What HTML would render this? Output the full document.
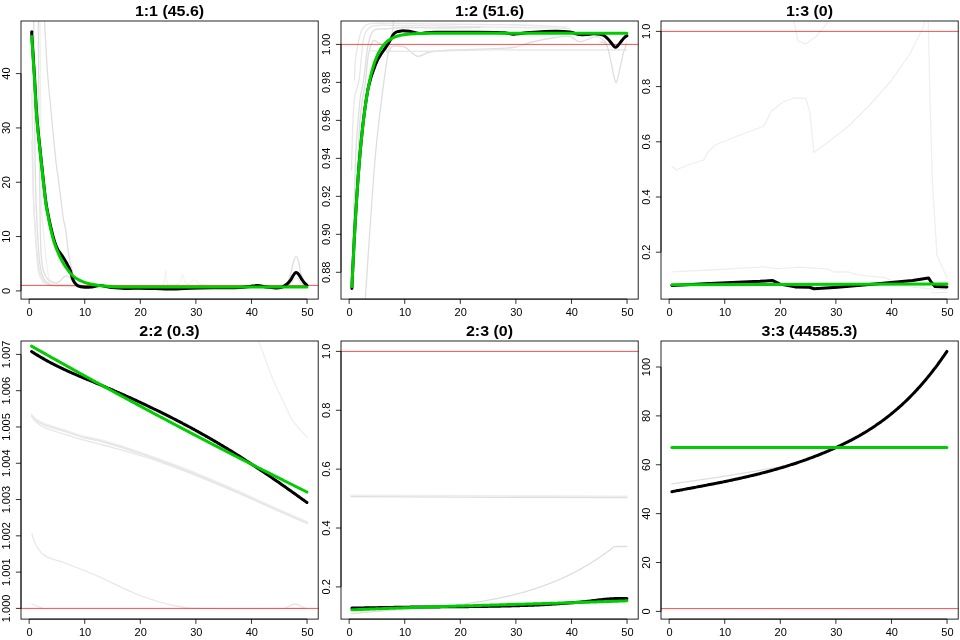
<!DOCTYPE html><html><head><meta charset="utf-8"><style>html,body{margin:0;padding:0;background:#fff;}svg{display:block;}text{font-family:"Liberation Sans",sans-serif;}svg{will-change:transform;}</style></head><body>
<svg width="960" height="640" viewBox="0 0 960 640">
<rect width="960" height="640" fill="#fff"/>
<g transform="translate(0,0)">
<clipPath id="c0"><rect x="21" y="21" width="297.2" height="278.1"/></clipPath>
<g clip-path="url(#c0)" fill="none" stroke-linejoin="round" stroke-linecap="round">
<path d="M33.70,15.00 C33.75,22.50 33.87,45.83 34.00,60.00 C34.13,74.17 34.33,85.00 34.50,100.00 C34.67,115.00 34.75,133.33 35.00,150.00 C35.25,166.67 35.50,185.00 36.00,200.00 C36.50,215.00 37.33,229.17 38.00,240.00 C38.67,250.83 39.00,258.50 40.00,265.00 C41.00,271.50 42.33,275.83 44.00,279.00 C45.67,282.17 47.33,282.83 50.00,284.00 C52.67,285.17 55.00,285.58 60.00,286.00 C65.00,286.42 70.00,286.42 80.00,286.50 C90.00,286.58 100.00,286.50 120.00,286.50 C140.00,286.50 168.67,286.50 200.00,286.50 C231.33,286.50 290.00,286.50 308.00,286.50" stroke="#dedede" stroke-width="1.3"/>
<path d="M31.90,91.90 C31.97,96.58 32.13,110.32 32.30,120.00 C32.47,129.68 32.68,136.67 32.90,150.00 C33.12,163.33 33.22,186.67 33.60,200.00 C33.98,213.33 34.42,218.23 35.20,230.00 C35.98,241.77 36.77,261.80 38.30,270.60 C39.83,279.40 42.12,280.32 44.40,282.80 C46.68,285.28 47.73,284.88 52.00,285.50 C56.27,286.12 67.00,286.33 70.00,286.50" stroke="#e7e7e7" stroke-width="1.3"/>
<path d="M31.90,141.00 C32.02,145.83 32.33,160.17 32.60,170.00 C32.87,179.83 32.80,186.67 33.50,200.00 C34.20,213.33 35.72,238.00 36.80,250.00 C37.88,262.00 38.47,266.50 40.00,272.00 C41.53,277.50 43.50,280.67 46.00,283.00 C48.50,285.33 53.50,285.50 55.00,286.00" stroke="#e7e7e7" stroke-width="1.3"/>
<path d="M39.90,15.00 C39.97,22.50 40.16,42.50 40.30,60.00 C40.44,77.50 40.55,96.67 40.75,120.00 C40.95,143.33 41.08,181.67 41.50,200.00 C41.92,218.33 42.15,217.38 43.30,230.00 C44.45,242.62 46.45,266.87 48.40,275.70 C50.35,284.53 52.23,281.37 55.00,283.00 C57.77,284.63 63.33,285.08 65.00,285.50" stroke="#efefef" stroke-width="1.3"/>
<path d="M38.30,15.00 C38.38,29.17 38.47,64.17 38.80,100.00 C39.13,135.83 39.72,202.40 40.30,230.00 C40.88,257.60 41.12,257.47 42.30,265.60 C43.48,273.73 45.20,275.93 47.40,278.80 C49.60,281.67 53.40,282.43 55.50,282.80 C57.60,283.17 58.47,282.10 60.00,281.00 C61.53,279.90 63.37,276.95 64.70,276.20 C66.03,275.45 66.78,275.87 68.00,276.50 C69.22,277.13 70.67,278.75 72.00,280.00 C73.33,281.25 74.00,283.00 76.00,284.00 C78.00,285.00 82.67,285.67 84.00,286.00" stroke="#dedede" stroke-width="1.3"/>
<path d="M44.20,15.00 C44.72,24.17 46.33,55.83 47.30,70.00 C48.27,84.17 48.59,85.00 50.00,100.00 C51.41,115.00 54.33,146.67 55.75,160.00 C57.17,173.33 57.26,170.42 58.50,180.00 C59.74,189.58 62.00,209.17 63.20,217.50 C64.40,225.83 64.77,223.75 65.70,230.00 C66.63,236.25 67.67,248.00 68.80,255.00 C69.93,262.00 71.30,267.50 72.50,272.00 C73.70,276.50 74.42,279.67 76.00,282.00 C77.58,284.33 78.83,285.25 82.00,286.00 C85.17,286.75 92.83,286.42 95.00,286.50" stroke="#dedede" stroke-width="1.3"/>
<path d="M270.00,286.50 C272.00,286.33 279.00,286.35 282.00,285.50 C285.00,284.65 286.53,283.43 288.00,281.40 C289.47,279.37 289.88,276.53 290.80,273.30 C291.72,270.07 292.62,264.78 293.50,262.00 C294.38,259.22 295.23,256.60 296.10,256.60 C296.97,256.60 297.88,259.10 298.70,262.00 C299.52,264.90 299.88,270.53 301.00,274.00 C302.12,277.47 304.23,280.80 305.40,282.80 C306.57,284.80 307.57,285.47 308.00,286.00" stroke="#dedede" stroke-width="1.3"/>
<path d="M280.00,286.50 C281.67,286.08 287.33,285.47 290.00,284.00 C292.67,282.53 294.00,277.70 296.00,277.70 C298.00,277.70 300.00,282.53 302.00,284.00 C304.00,285.47 307.00,286.08 308.00,286.50" stroke="#e7e7e7" stroke-width="1.3"/>
<path d="M150.00,286.00 C151.67,285.92 157.75,285.83 160.00,285.50 C162.25,285.17 162.53,286.53 163.50,284.00 C164.47,281.47 165.13,270.30 165.80,270.30 C166.47,270.30 165.80,281.55 167.50,284.00 C169.20,286.45 173.92,285.33 176.00,285.00 C178.08,284.67 178.92,283.75 180.00,282.00 C181.08,280.25 181.67,274.50 182.50,274.50 C183.33,274.50 184.08,280.42 185.00,282.00 C185.92,283.58 187.00,284.00 188.00,284.00 C189.00,284.00 190.00,282.72 191.00,282.00 C192.00,281.28 193.00,279.70 194.00,279.70 C195.00,279.70 196.00,281.28 197.00,282.00 C198.00,282.72 197.83,283.33 200.00,284.00 C202.17,284.67 208.33,285.67 210.00,286.00" stroke="#f3f3f3" stroke-width="1.3"/>
<path d="M21,285.4H318.2" stroke="#ff0000" stroke-width="0.7"/>
<path d="M31.90,31.70 C31.90,32.52 31.48,29.38 31.90,36.60 C32.32,43.82 33.55,61.32 34.40,75.00 C35.25,88.68 35.87,104.53 37.00,118.70 C38.13,132.87 39.77,146.45 41.20,160.00 C42.63,173.55 44.47,191.00 45.60,200.00 C46.73,209.00 47.10,209.32 48.00,214.00 C48.90,218.68 49.88,223.43 51.00,228.10 C52.12,232.77 53.60,238.48 54.70,242.00 C55.80,245.52 56.30,246.82 57.60,249.20 C58.90,251.58 60.98,253.95 62.50,256.30 C64.02,258.65 65.42,260.97 66.70,263.30 C67.98,265.63 69.27,267.85 70.20,270.30 C71.13,272.75 71.58,275.95 72.30,278.00 C73.02,280.05 73.55,281.30 74.50,282.60 C75.45,283.90 76.25,285.03 78.00,285.80 C79.75,286.57 82.83,287.00 85.00,287.20 C87.17,287.40 89.12,287.20 91.00,287.00 C92.88,286.80 94.63,286.23 96.30,286.00 C97.97,285.77 99.38,285.50 101.00,285.60 C102.62,285.70 104.17,286.27 106.00,286.60 C107.83,286.93 108.78,287.30 112.00,287.60 C115.22,287.90 120.63,288.30 125.30,288.40 C129.97,288.50 135.05,288.18 140.00,288.20 C144.95,288.22 150.17,288.37 155.00,288.50 C159.83,288.63 164.00,289.00 169.00,289.00 C174.00,289.00 179.83,288.67 185.00,288.50 C190.17,288.33 194.17,288.12 200.00,288.00 C205.83,287.88 213.33,287.88 220.00,287.80 C226.67,287.72 235.00,287.72 240.00,287.50 C245.00,287.28 247.12,286.82 250.00,286.50 C252.88,286.18 254.63,285.52 257.30,285.60 C259.97,285.68 262.97,286.62 266.00,287.00 C269.03,287.38 273.00,287.80 275.50,287.90 C278.00,288.00 279.58,287.87 281.00,287.60 C282.42,287.33 283.12,286.80 284.00,286.30 C284.88,285.80 285.55,285.22 286.30,284.60 C287.05,283.98 287.80,283.33 288.50,282.60 C289.20,281.87 289.83,281.17 290.50,280.20 C291.17,279.23 291.83,277.90 292.50,276.80 C293.17,275.70 293.92,274.33 294.50,273.60 C295.08,272.87 295.50,272.48 296.00,272.40 C296.50,272.32 296.92,272.57 297.50,273.10 C298.08,273.63 298.83,274.63 299.50,275.60 C300.17,276.57 300.75,277.77 301.50,278.90 C302.25,280.03 303.10,281.35 304.00,282.40 C304.90,283.45 306.42,284.73 306.90,285.20" stroke="#000" stroke-width="3"/>
<path d="M31.70,36.60 C32.12,43.00 33.35,61.32 34.20,75.00 C35.05,88.68 35.67,104.53 36.80,118.70 C37.93,132.87 39.57,146.45 41.00,160.00 C42.43,173.55 44.28,191.00 45.40,200.00 C46.52,209.00 46.85,209.32 47.70,214.00 C48.55,218.68 49.43,223.40 50.50,228.10 C51.57,232.80 52.57,237.50 54.10,242.20 C55.63,246.90 57.72,252.08 59.70,256.30 C61.68,260.52 63.78,264.22 66.00,267.50 C68.22,270.78 70.53,273.77 73.00,276.00 C75.47,278.23 78.10,279.62 80.80,280.90 C83.50,282.18 86.17,282.95 89.20,283.70 C92.23,284.45 95.53,284.95 99.00,285.40 C102.47,285.85 105.67,286.15 110.00,286.40 C114.33,286.65 119.17,286.78 125.00,286.90 C130.83,287.02 132.50,287.07 145.00,287.10 C157.50,287.13 173.02,287.10 200.00,287.10 C226.98,287.10 289.08,287.10 306.90,287.10" stroke="#00cd00" stroke-width="3"/>
</g>
<rect x="21" y="21" width="297.2" height="278.1" fill="none" stroke="#000" stroke-width="0.85"/>
<path d="M29.15,299.1H307.05M29.15,299.1v4.8M84.73,299.1v4.8M140.31,299.1v4.8M195.89,299.1v4.8M251.47,299.1v4.8M307.05,299.1v4.8" stroke="#000" stroke-width="0.8" fill="none"/>
<text x="29.55" y="315.7" font-size="11" text-anchor="middle">0</text>
<text x="85.13" y="315.7" font-size="11" text-anchor="middle">10</text>
<text x="140.71" y="315.7" font-size="11" text-anchor="middle">20</text>
<text x="196.29" y="315.7" font-size="11" text-anchor="middle">30</text>
<text x="251.87" y="315.7" font-size="11" text-anchor="middle">40</text>
<text x="307.45" y="315.7" font-size="11" text-anchor="middle">50</text>
<path d="M21,290.9V73.6M21,290.9h-5.1M21,236.57h-5.1M21,182.25h-5.1M21,127.93h-5.1M21,73.6h-5.1" stroke="#000" stroke-width="0.8" fill="none"/>
<text transform="translate(10.3,290.9) rotate(-90)" font-size="11" text-anchor="middle">0</text>
<text transform="translate(10.3,236.57) rotate(-90)" font-size="11" text-anchor="middle">10</text>
<text transform="translate(10.3,182.25) rotate(-90)" font-size="11" text-anchor="middle">20</text>
<text transform="translate(10.3,127.93) rotate(-90)" font-size="11" text-anchor="middle">30</text>
<text transform="translate(10.3,73.6) rotate(-90)" font-size="11" text-anchor="middle">40</text>
<text transform="translate(169.5,15.7) scale(1.08,1)" font-size="14.8" font-weight="bold" text-anchor="middle">1:1 (45.6)</text>
</g>
<g transform="translate(320,0)">
<clipPath id="c1"><rect x="21" y="21" width="297.2" height="278.1"/></clipPath>
<g clip-path="url(#c1)" fill="none" stroke-linejoin="round" stroke-linecap="round">
<path d="M34.40,80.00 C34.58,76.67 35.03,65.32 35.50,60.00 C35.97,54.68 36.30,52.73 37.20,48.10 C38.10,43.47 39.33,36.10 40.90,32.20 C42.47,28.30 43.78,26.18 46.60,24.70 C49.42,23.22 52.23,23.50 57.80,23.30 C63.37,23.10 69.63,23.38 80.00,23.50 C90.37,23.62 106.67,23.83 120.00,24.00 C133.33,24.17 146.67,24.33 160.00,24.50 C173.33,24.67 185.67,24.58 200.00,25.00 C214.33,25.42 238.33,26.67 246.00,27.00" stroke="#e7e7e7" stroke-width="1.3"/>
<path d="M31.50,170.00 C31.75,161.67 32.42,132.50 33.00,120.00 C33.58,107.50 33.98,101.67 35.00,95.00 C36.02,88.33 37.80,88.60 39.10,80.00 C40.40,71.40 41.72,51.37 42.80,43.40 C43.88,35.43 44.20,35.00 45.60,32.20 C47.00,29.40 48.38,27.77 51.20,26.60 C54.02,25.43 56.87,25.37 62.50,25.20 C68.13,25.03 75.42,25.47 85.00,25.60 C94.58,25.73 107.50,25.77 120.00,26.00 C132.50,26.23 146.67,26.75 160.00,27.00 C173.33,27.25 185.00,27.28 200.00,27.50 C215.00,27.72 241.67,28.17 250.00,28.30" stroke="#e7e7e7" stroke-width="1.3"/>
<path d="M33.00,240.00 C33.50,225.00 34.83,173.33 36.00,150.00 C37.17,126.67 38.72,111.67 40.00,100.00 C41.28,88.33 42.45,88.65 43.70,80.00 C44.95,71.35 46.25,55.75 47.50,48.10 C48.75,40.45 49.80,37.22 51.20,34.10 C52.60,30.98 53.23,30.27 55.90,29.40 C58.57,28.53 62.35,29.22 67.20,28.90 C72.05,28.58 76.20,27.65 85.00,27.50 C93.80,27.35 107.50,28.00 120.00,28.00 C132.50,28.00 153.33,27.58 160.00,27.50" stroke="#dedede" stroke-width="1.3"/>
<path d="M36.00,200.00 C36.67,186.67 38.40,140.00 40.00,120.00 C41.60,100.00 44.20,90.83 45.60,80.00 C47.00,69.17 47.15,61.48 48.40,55.00 C49.65,48.52 51.53,43.18 53.10,41.10 C54.67,39.02 55.92,41.65 57.80,42.50 C59.68,43.35 62.68,44.48 64.40,46.20 C66.12,47.92 67.02,52.48 68.10,52.80 C69.18,53.12 69.97,49.20 70.90,48.10 C71.83,47.00 71.35,46.35 73.70,46.20 C76.05,46.05 81.03,45.53 85.00,47.20 C88.97,48.88 93.33,55.45 97.50,56.25 C101.67,57.05 104.58,53.04 110.00,52.00 C115.42,50.96 121.67,50.47 130.00,50.00 C138.33,49.53 149.45,49.62 160.00,49.20 C170.55,48.78 184.97,48.62 193.30,47.50 C201.63,46.38 203.05,44.17 210.00,42.50 C216.95,40.83 228.33,38.47 235.00,37.50 C241.67,36.53 245.83,36.00 250.00,36.70 C254.17,37.40 255.55,41.70 260.00,41.70 C264.45,41.70 272.25,36.43 276.70,36.70 C281.15,36.97 285.03,42.20 286.70,43.30" stroke="#dedede" stroke-width="1.3"/>
<path d="M45.20,300.00 C46.83,276.67 51.91,196.25 55.00,160.00 C58.09,123.75 61.42,101.15 63.75,82.50 C66.08,63.85 67.49,56.95 69.00,48.10 C70.51,39.25 72.02,34.92 72.80,29.40 C73.58,23.88 73.55,17.40 73.70,15.00" stroke="#dedede" stroke-width="1.3"/>
<path d="M50.30,50.90 C56.08,50.98 73.38,51.38 85.00,51.40 C96.62,51.42 107.50,51.23 120.00,51.00 C132.50,50.77 146.67,50.17 160.00,50.00 C173.33,49.83 185.00,50.00 200.00,50.00 C215.00,50.00 232.18,50.00 250.00,50.00 C267.82,50.00 297.42,50.00 306.90,50.00" stroke="#e7e7e7" stroke-width="1.3"/>
<path d="M280.00,42.00 C281.12,42.50 284.87,41.67 286.70,45.00 C288.53,48.33 289.48,55.75 291.00,62.00 C292.52,68.25 294.30,81.50 295.80,82.50 C297.30,83.50 298.75,72.87 300.00,68.00 C301.25,63.13 302.18,57.42 303.30,53.30 C304.42,49.18 306.13,44.97 306.70,43.30" stroke="#dedede" stroke-width="1.3"/>
<path d="M21,44.4H318.2" stroke="#ff0000" stroke-width="0.7"/>
<path d="M31.90,288.50 C31.95,287.19 32.06,283.79 32.20,280.61 C32.34,277.43 32.56,273.11 32.74,269.40 C32.93,265.70 33.11,262.01 33.29,258.40 C33.47,254.79 33.65,251.23 33.83,247.74 C34.02,244.25 34.20,240.82 34.38,237.47 C34.56,234.11 34.74,230.82 34.92,227.60 C35.11,224.38 35.29,221.22 35.47,218.14 C35.65,215.05 35.83,212.04 36.01,209.08 C36.20,206.13 36.38,203.25 36.56,200.43 C36.74,197.61 36.92,194.85 37.10,192.16 C37.29,189.46 37.47,186.83 37.65,184.26 C37.83,181.69 38.01,179.19 38.19,176.73 C38.37,174.28 38.56,171.89 38.74,169.55 C38.92,167.22 39.10,164.94 39.28,162.71 C39.46,160.48 39.65,158.31 39.83,156.19 C40.01,154.07 40.19,152.01 40.37,149.99 C40.55,147.97 40.74,146.00 40.92,144.08 C41.10,142.15 41.28,140.28 41.46,138.45 C41.64,136.62 41.83,134.84 42.01,133.10 C42.19,131.36 42.37,129.67 42.55,128.01 C42.73,126.36 42.91,124.75 43.10,123.17 C43.28,121.60 43.46,120.07 43.64,118.57 C43.82,117.07 44.00,115.62 44.19,114.20 C44.37,112.77 44.55,111.39 44.73,110.04 C44.91,108.69 45.09,107.37 45.28,106.09 C45.46,104.80 45.64,103.55 45.82,102.33 C46.00,101.11 46.18,99.93 46.37,98.77 C46.55,97.61 46.73,96.48 46.91,95.38 C47.09,94.28 47.27,93.21 47.46,92.16 C47.64,91.12 47.49,91.30 48.00,89.11 C48.51,86.91 49.58,82.18 50.50,79.00 C51.42,75.82 52.42,73.00 53.50,70.00 C54.58,67.00 55.83,63.50 57.00,61.00 C58.17,58.50 59.35,56.83 60.50,55.00 C61.65,53.17 62.94,51.40 63.90,50.00 C64.86,48.60 65.48,47.77 66.25,46.60 C67.02,45.43 67.78,44.17 68.50,43.00 C69.22,41.83 69.83,40.97 70.60,39.60 C71.37,38.23 72.16,36.07 73.10,34.80 C74.04,33.53 74.89,32.65 76.25,32.00 C77.61,31.35 79.58,31.05 81.25,30.90 C82.92,30.75 84.38,30.92 86.25,31.10 C88.12,31.28 90.62,31.65 92.50,32.00 C94.38,32.35 96.08,32.93 97.50,33.20 C98.92,33.47 99.58,33.67 101.00,33.60 C102.42,33.53 103.67,33.02 106.00,32.80 C108.33,32.58 109.33,32.40 115.00,32.30 C120.67,32.20 129.72,32.18 140.00,32.20 C150.28,32.22 169.03,32.27 176.70,32.40 C184.37,32.53 183.23,32.70 186.00,33.00 C188.77,33.30 190.97,34.12 193.30,34.20 C195.63,34.28 197.22,33.78 200.00,33.50 C202.78,33.22 204.17,32.87 210.00,32.50 C215.83,32.13 228.33,31.38 235.00,31.30 C241.67,31.22 246.67,31.63 250.00,32.00 C253.33,32.37 253.33,33.08 255.00,33.50 C256.67,33.92 258.17,34.32 260.00,34.50 C261.83,34.68 263.78,34.72 266.00,34.60 C268.22,34.48 270.97,33.87 273.30,33.80 C275.63,33.73 278.22,33.92 280.00,34.20 C281.78,34.48 282.67,34.70 284.00,35.50 C285.33,36.30 286.72,37.67 288.00,39.00 C289.28,40.33 290.70,42.25 291.70,43.50 C292.70,44.75 293.32,45.87 294.00,46.50 C294.68,47.13 295.13,47.47 295.80,47.30 C296.47,47.13 297.02,46.58 298.00,45.50 C298.98,44.42 300.62,42.13 301.70,40.80 C302.78,39.47 303.63,38.33 304.50,37.50 C305.37,36.67 306.50,36.08 306.90,35.80" stroke="#000" stroke-width="3"/>
<path d="M31.90,286.60 L32.82,267.87 L33.74,249.57 L34.66,232.35 L35.58,216.28 L36.50,201.36 L37.42,187.55 L38.34,174.79 L39.26,163.02 L40.18,152.17 L41.10,142.19 L42.02,133.01 L42.94,124.57 L43.86,116.82 L44.78,109.70 L45.70,103.18 L46.62,97.19 L47.54,91.70 L48.46,86.67 L49.37,82.07 L50.29,77.85 L51.21,73.99 L52.13,70.45 L53.05,67.22 L53.97,64.26 L54.89,61.56 L55.81,59.08 L56.73,56.82 L57.65,54.76 L58.57,52.87 L59.49,51.14 L60.41,49.57 L61.33,48.13 L62.25,46.81 L63.17,45.61 L64.09,44.52 L65.01,43.52 L65.93,42.60 L66.85,41.77 L67.77,41.01 L68.69,40.32 L69.61,39.69 L70.53,39.11 L71.45,38.58 L72.37,38.10 L73.29,37.67 L74.21,37.27 L75.13,36.90 L76.05,36.57 L76.97,36.27 L77.89,36.00 L78.81,35.75 L79.73,35.52 L80.65,35.31 L81.57,35.12 L82.49,34.95 L83.41,34.79 L84.32,34.65 L85.24,34.52 L86.16,34.40 L87.08,34.29 L88.00,34.19 L88.92,34.10 L89.84,34.02 L90.76,33.95 L91.68,33.88 L92.60,33.82 L93.52,33.76 L94.44,33.71 L95.36,33.66 L96.28,33.62 L97.20,33.58 L98.12,33.55 L99.04,33.52 L99.96,33.49 L100.88,33.46 L101.80,33.44 L102.72,33.42 L103.64,33.40 L104.56,33.38 L105.48,33.36 L106.40,33.35 L107.32,33.33 L108.24,33.32 L109.16,33.31 L110.08,33.30 L111.00,33.29 L111.92,33.28 L112.84,33.28 L113.76,33.27 L114.68,33.26 L115.60,33.26 L116.52,33.25 L117.44,33.25 L118.35,33.24 L119.27,33.24 L120.19,33.24 L121.11,33.23 L122.03,33.23 L122.95,33.23 L123.87,33.22 L124.79,33.22 L125.71,33.22 L126.63,33.22 L127.55,33.22 L128.47,33.21 L129.39,33.21 L130.31,33.21 L131.23,33.21 L132.15,33.21 L133.07,33.21 L133.99,33.21 L134.91,33.21 L135.83,33.21 L136.75,33.21 L137.67,33.21 L138.59,33.21 L139.51,33.20 L140.43,33.20 L141.35,33.20 L142.27,33.20 L143.19,33.20 L144.11,33.20 L145.03,33.20 L145.95,33.20 L146.87,33.20 L147.79,33.20 L148.71,33.20 L149.63,33.20 L150.55,33.20 L151.47,33.20 L152.38,33.20 L153.30,33.20 L154.22,33.20 L155.14,33.20 L156.06,33.20 L156.98,33.20 L157.90,33.20 L158.82,33.20 L159.74,33.20 L160.66,33.20 L161.58,33.20 L162.50,33.20 L163.42,33.20 L164.34,33.20 L165.26,33.20 L166.18,33.20 L167.10,33.20 L168.02,33.20 L168.94,33.20 L169.86,33.20 L170.78,33.20 L171.70,33.20 L172.62,33.20 L173.54,33.20 L174.46,33.20 L175.38,33.20 L176.30,33.20 L177.22,33.20 L178.14,33.20 L179.06,33.20 L179.98,33.20 L180.90,33.20 L181.82,33.20 L182.74,33.20 L183.66,33.20 L184.58,33.20 L185.50,33.20 L186.42,33.20 L187.33,33.20 L188.25,33.20 L189.17,33.20 L190.09,33.20 L191.01,33.20 L191.93,33.20 L192.85,33.20 L193.77,33.20 L194.69,33.20 L195.61,33.20 L196.53,33.20 L197.45,33.20 L198.37,33.20 L199.29,33.20 L200.21,33.20 L201.13,33.20 L202.05,33.20 L202.97,33.20 L203.89,33.20 L204.81,33.20 L205.73,33.20 L206.65,33.20 L207.57,33.20 L208.49,33.20 L209.41,33.20 L210.33,33.20 L211.25,33.20 L212.17,33.20 L213.09,33.20 L214.01,33.20 L214.93,33.20 L215.85,33.20 L216.77,33.20 L217.69,33.20 L218.61,33.20 L219.53,33.20 L220.45,33.20 L221.36,33.20 L222.28,33.20 L223.20,33.20 L224.12,33.20 L225.04,33.20 L225.96,33.20 L226.88,33.20 L227.80,33.20 L228.72,33.20 L229.64,33.20 L230.56,33.20 L231.48,33.20 L232.40,33.20 L233.32,33.20 L234.24,33.20 L235.16,33.20 L236.08,33.20 L237.00,33.20 L237.92,33.20 L238.84,33.20 L239.76,33.20 L240.68,33.20 L241.60,33.20 L242.52,33.20 L243.44,33.20 L244.36,33.20 L245.28,33.20 L246.20,33.20 L247.12,33.20 L248.04,33.20 L248.96,33.20 L249.88,33.20 L250.80,33.20 L251.72,33.20 L252.64,33.20 L253.56,33.20 L254.48,33.20 L255.39,33.20 L256.31,33.20 L257.23,33.20 L258.15,33.20 L259.07,33.20 L259.99,33.20 L260.91,33.20 L261.83,33.20 L262.75,33.20 L263.67,33.20 L264.59,33.20 L265.51,33.20 L266.43,33.20 L267.35,33.20 L268.27,33.20 L269.19,33.20 L270.11,33.20 L271.03,33.20 L271.95,33.20 L272.87,33.20 L273.79,33.20 L274.71,33.20 L275.63,33.20 L276.55,33.20 L277.47,33.20 L278.39,33.20 L279.31,33.20 L280.23,33.20 L281.15,33.20 L282.07,33.20 L282.99,33.20 L283.91,33.20 L284.83,33.20 L285.75,33.20 L286.67,33.20 L287.59,33.20 L288.51,33.20 L289.43,33.20 L290.34,33.20 L291.26,33.20 L292.18,33.20 L293.10,33.20 L294.02,33.20 L294.94,33.20 L295.86,33.20 L296.78,33.20 L297.70,33.20 L298.62,33.20 L299.54,33.20 L300.46,33.20 L301.38,33.20 L302.30,33.20 L303.22,33.20 L304.14,33.20 L305.06,33.20 L305.98,33.20 L306.90,33.20" stroke="#00cd00" stroke-width="3"/>
</g>
<rect x="21" y="21" width="297.2" height="278.1" fill="none" stroke="#000" stroke-width="0.85"/>
<path d="M29.15,299.1H307.05M29.15,299.1v4.8M84.73,299.1v4.8M140.31,299.1v4.8M195.89,299.1v4.8M251.47,299.1v4.8M307.05,299.1v4.8" stroke="#000" stroke-width="0.8" fill="none"/>
<text x="29.55" y="315.7" font-size="11" text-anchor="middle">0</text>
<text x="85.13" y="315.7" font-size="11" text-anchor="middle">10</text>
<text x="140.71" y="315.7" font-size="11" text-anchor="middle">20</text>
<text x="196.29" y="315.7" font-size="11" text-anchor="middle">30</text>
<text x="251.87" y="315.7" font-size="11" text-anchor="middle">40</text>
<text x="307.45" y="315.7" font-size="11" text-anchor="middle">50</text>
<path d="M21,272.3V44.4M21,272.3h-5.1M21,234.32h-5.1M21,196.33h-5.1M21,158.35h-5.1M21,120.37h-5.1M21,82.38h-5.1M21,44.4h-5.1" stroke="#000" stroke-width="0.8" fill="none"/>
<text transform="translate(10.3,272.3) rotate(-90)" font-size="11" text-anchor="middle">0.88</text>
<text transform="translate(10.3,234.32) rotate(-90)" font-size="11" text-anchor="middle">0.90</text>
<text transform="translate(10.3,196.33) rotate(-90)" font-size="11" text-anchor="middle">0.92</text>
<text transform="translate(10.3,158.35) rotate(-90)" font-size="11" text-anchor="middle">0.94</text>
<text transform="translate(10.3,120.37) rotate(-90)" font-size="11" text-anchor="middle">0.96</text>
<text transform="translate(10.3,82.38) rotate(-90)" font-size="11" text-anchor="middle">0.98</text>
<text transform="translate(10.3,44.4) rotate(-90)" font-size="11" text-anchor="middle">1.00</text>
<text transform="translate(169.5,15.7) scale(1.08,1)" font-size="14.8" font-weight="bold" text-anchor="middle">1:2 (51.6)</text>
</g>
<g transform="translate(640,0)">
<clipPath id="c2"><rect x="21" y="21" width="297.2" height="278.1"/></clipPath>
<g clip-path="url(#c2)" fill="none" stroke-linejoin="round" stroke-linecap="round">
<path d="M32.00,166.25 L36.25,170.00 L47.50,165.00 L63.75,160.00 L67.50,152.50 L75.00,145.00 L100.00,135.00 L123.75,126.25 L131.25,111.25 L142.50,102.50 L153.75,98.00 L165.90,98.40 L169.90,113.00 L173.90,152.80 L184.50,144.80 L208.40,126.20 L229.70,105.00 L250.90,81.10 L269.50,54.50 L282.80,28.00 L286.80,15.00" stroke="#efefef" stroke-width="1.3"/>
<path d="M288.10,15.00 L290.00,100.00 L292.30,180.00 L297.00,255.00 L302.60,268.20 L307.30,277.60" stroke="#efefef" stroke-width="1.3"/>
<path d="M152.70,15.00 L158.00,41.20 L166.00,43.90 L176.60,36.00 L193.80,15.00" stroke="#efefef" stroke-width="1.3"/>
<path d="M31.90,271.90 L70.00,270.00 L120.00,267.20 L122.00,266.70 L137.00,268.60 L160.00,267.20 L188.10,269.10 L193.80,272.00 L208.80,272.00 L216.30,274.70 L244.40,277.60 L253.80,281.30 L272.60,287.00 L291.30,288.80 L306.90,289.80" stroke="#efefef" stroke-width="1.3"/>
<path d="M291.30,292.60 L306.90,292.60" stroke="#efefef" stroke-width="1.3"/>
<path d="M21,31.4H318.2" stroke="#ff0000" stroke-width="0.7"/>
<path d="M31.90,285.40 L70.00,283.50 L120.00,281.30 L132.30,280.40 L140.00,284.10 L155.00,286.90 L169.40,287.30 L174.00,288.80 L197.50,287.30 L235.00,284.10 L272.60,280.40 L288.50,277.90 L291.30,282.20 L295.00,286.60 L306.90,286.90" stroke="#000" stroke-width="3"/>
<path d="M31.90,284.70 L306.90,284.10" stroke="#00cd00" stroke-width="3"/>
</g>
<rect x="21" y="21" width="297.2" height="278.1" fill="none" stroke="#000" stroke-width="0.85"/>
<path d="M29.15,299.1H307.05M29.15,299.1v4.8M84.73,299.1v4.8M140.31,299.1v4.8M195.89,299.1v4.8M251.47,299.1v4.8M307.05,299.1v4.8" stroke="#000" stroke-width="0.8" fill="none"/>
<text x="29.55" y="315.7" font-size="11" text-anchor="middle">0</text>
<text x="85.13" y="315.7" font-size="11" text-anchor="middle">10</text>
<text x="140.71" y="315.7" font-size="11" text-anchor="middle">20</text>
<text x="196.29" y="315.7" font-size="11" text-anchor="middle">30</text>
<text x="251.87" y="315.7" font-size="11" text-anchor="middle">40</text>
<text x="307.45" y="315.7" font-size="11" text-anchor="middle">50</text>
<path d="M21,252.2V31.4M21,252.2h-5.1M21,197h-5.1M21,141.8h-5.1M21,86.6h-5.1M21,31.4h-5.1" stroke="#000" stroke-width="0.8" fill="none"/>
<text transform="translate(10.3,252.2) rotate(-90)" font-size="11" text-anchor="middle">0.2</text>
<text transform="translate(10.3,197) rotate(-90)" font-size="11" text-anchor="middle">0.4</text>
<text transform="translate(10.3,141.8) rotate(-90)" font-size="11" text-anchor="middle">0.6</text>
<text transform="translate(10.3,86.6) rotate(-90)" font-size="11" text-anchor="middle">0.8</text>
<text transform="translate(10.3,31.4) rotate(-90)" font-size="11" text-anchor="middle">1.0</text>
<text transform="translate(169.5,15.7) scale(1.08,1)" font-size="14.8" font-weight="bold" text-anchor="middle">1:3 (0)</text>
</g>
<g transform="translate(0,320)">
<clipPath id="c3"><rect x="21" y="21" width="297.2" height="278.1"/></clipPath>
<g clip-path="url(#c3)" fill="none" stroke-linejoin="round" stroke-linecap="round">
<path d="M31.60,95.00 C32.33,95.75 33.98,98.02 36.00,99.50 C38.02,100.98 39.28,102.15 43.70,103.90 C48.12,105.65 56.25,107.97 62.50,110.00 C68.75,112.03 74.12,114.15 81.20,116.10 C88.28,118.05 94.22,118.58 105.00,121.70 C115.78,124.82 131.45,129.75 145.90,134.80 C160.35,139.85 176.42,145.88 191.70,152.00 C206.98,158.12 222.30,164.80 237.60,171.50 C252.90,178.20 271.90,187.03 283.50,192.20 C295.10,197.37 303.25,200.78 307.20,202.50" stroke="#dedede" stroke-width="1.3"/>
<path d="M31.60,95.90 C32.33,96.65 33.98,98.92 36.00,100.40 C38.02,101.88 39.28,103.05 43.70,104.80 C48.12,106.55 56.25,108.87 62.50,110.90 C68.75,112.93 74.12,115.05 81.20,117.00 C88.28,118.95 94.22,119.48 105.00,122.60 C115.78,125.72 131.45,130.65 145.90,135.70 C160.35,140.75 176.42,146.78 191.70,152.90 C206.98,159.02 222.30,165.70 237.60,172.40 C252.90,179.10 271.90,187.93 283.50,193.10 C295.10,198.27 303.25,201.68 307.20,203.40" stroke="#e7e7e7" stroke-width="1.3"/>
<path d="M31.60,94.20 C32.33,94.95 33.98,97.22 36.00,98.70 C38.02,100.18 39.28,101.35 43.70,103.10 C48.12,104.85 56.25,107.17 62.50,109.20 C68.75,111.23 74.12,113.35 81.20,115.30 C88.28,117.25 94.22,117.78 105.00,120.90 C115.78,124.02 131.45,128.95 145.90,134.00 C160.35,139.05 176.42,145.08 191.70,151.20 C206.98,157.32 222.30,164.00 237.60,170.70 C252.90,177.40 271.90,186.23 283.50,191.40 C295.10,196.57 303.25,199.98 307.20,201.70" stroke="#efefef" stroke-width="1.3"/>
<path d="M31.60,96.40 C32.33,97.30 33.98,100.00 36.00,101.80 C38.02,103.60 39.28,105.22 43.70,107.20 C48.12,109.18 56.25,111.67 62.50,113.70 C68.75,115.73 74.12,117.43 81.20,119.40 C88.28,121.37 94.22,122.53 105.00,125.50 C115.78,128.47 131.45,132.48 145.90,137.20 C160.35,141.92 176.42,147.87 191.70,153.80 C206.98,159.73 222.30,166.23 237.60,172.80 C252.90,179.37 271.90,188.08 283.50,193.20 C295.10,198.32 303.25,201.78 307.20,203.50" stroke="#e7e7e7" stroke-width="1.3"/>
<path d="M31.90,214.00 C32.58,215.83 33.82,221.35 36.00,225.00 C38.18,228.65 39.85,232.78 45.00,235.90 C50.15,239.03 58.07,240.36 66.90,243.75 C75.73,247.14 86.03,251.04 98.00,256.25 C109.97,261.46 125.71,270.04 138.75,275.00 C151.79,279.96 164.79,283.77 176.25,286.00 C187.71,288.23 185.72,288.00 207.50,288.40 C229.28,288.80 290.33,288.40 306.90,288.40" stroke="#e7e7e7" stroke-width="1.3"/>
<path d="M31.90,284.00 L41.90,288.00" stroke="#e7e7e7" stroke-width="1.3"/>
<path d="M285.00,288.40 C286.67,287.67 291.67,284.00 295.00,284.00 C298.33,284.00 303.33,287.67 305.00,288.40" stroke="#e7e7e7" stroke-width="1.3"/>
<path d="M256.60,15.00 C259.25,22.20 267.97,46.95 272.50,58.20 C277.03,69.45 280.35,75.32 283.80,82.50 C287.25,89.68 289.30,95.50 293.20,101.30 C297.10,107.10 304.87,114.63 307.20,117.30" stroke="#efefef" stroke-width="1.3"/>
<path d="M21,288.4H318.2" stroke="#ff0000" stroke-width="0.7"/>
<path d="M31.60,31.53 C31.85,31.69 32.61,32.19 33.11,32.51 C33.62,32.84 34.12,33.16 34.63,33.48 C35.13,33.80 35.63,34.11 36.14,34.43 C36.64,34.74 37.15,35.05 37.65,35.36 C38.15,35.67 38.66,35.97 39.16,36.27 C39.67,36.58 40.17,36.87 40.68,37.17 C41.18,37.47 41.68,37.76 42.19,38.06 C42.69,38.35 43.20,38.64 43.70,38.92 C44.21,39.21 44.71,39.50 45.21,39.78 C45.72,40.06 46.22,40.34 46.73,40.62 C47.23,40.90 47.73,41.17 48.24,41.44 C48.74,41.72 49.25,41.99 49.75,42.26 C50.26,42.53 50.76,42.79 51.26,43.06 C51.77,43.32 52.27,43.58 52.78,43.84 C53.28,44.10 53.79,44.36 54.29,44.62 C54.79,44.88 55.30,45.13 55.80,45.38 C56.31,45.64 56.81,45.89 57.31,46.14 C57.82,46.39 58.32,46.63 58.83,46.88 C59.33,47.12 59.84,47.37 60.34,47.61 C60.84,47.85 61.35,48.09 61.85,48.33 C62.36,48.57 62.86,48.81 63.37,49.05 C63.87,49.28 64.37,49.52 64.88,49.75 C65.38,49.98 65.89,50.22 66.39,50.45 C66.89,50.68 67.40,50.91 67.90,51.14 C68.41,51.36 68.91,51.59 69.42,51.82 C69.92,52.04 70.42,52.27 70.93,52.49 C71.43,52.72 71.94,52.94 72.44,53.16 C72.95,53.38 73.45,53.60 73.95,53.82 C74.46,54.04 74.96,54.26 75.47,54.48 C75.97,54.70 76.47,54.91 76.98,55.13 C77.48,55.34 77.99,55.56 78.49,55.77 C79.00,55.99 79.50,56.20 80.00,56.42 C80.51,56.63 81.01,56.84 81.52,57.06 C82.02,57.27 82.53,57.48 83.03,57.69 C83.53,57.90 84.04,58.11 84.54,58.32 C85.05,58.53 85.55,58.74 86.05,58.95 C86.56,59.16 87.06,59.37 87.57,59.58 C88.07,59.79 88.58,60.00 89.08,60.21 C89.58,60.42 90.09,60.63 90.59,60.83 C91.10,61.04 91.60,61.25 92.11,61.46 C92.61,61.67 93.11,61.88 93.62,62.08 C94.12,62.29 94.63,62.50 95.13,62.71 C95.63,62.92 96.14,63.13 96.64,63.34 C97.15,63.55 97.65,63.75 98.16,63.96 C98.66,64.17 99.16,64.38 99.67,64.59 C100.17,64.80 100.68,65.01 101.18,65.22 C101.69,65.44 102.19,65.65 102.69,65.86 C103.20,66.07 103.70,66.28 104.21,66.49 C104.71,66.71 105.22,66.92 105.72,67.13 C106.22,67.35 106.73,67.56 107.23,67.77 C107.74,67.99 108.24,68.20 108.74,68.42 C109.25,68.63 109.75,68.85 110.26,69.06 C110.76,69.28 111.27,69.50 111.77,69.71 C112.27,69.93 112.78,70.15 113.28,70.36 C113.79,70.58 114.29,70.80 114.80,71.02 C115.30,71.23 115.80,71.45 116.31,71.67 C116.81,71.89 117.32,72.11 117.82,72.33 C118.32,72.55 118.83,72.77 119.33,72.99 C119.84,73.21 120.34,73.43 120.85,73.66 C121.35,73.88 121.85,74.10 122.36,74.32 C122.86,74.54 123.37,74.77 123.87,74.99 C124.38,75.22 124.88,75.44 125.38,75.66 C125.89,75.89 126.39,76.11 126.90,76.34 C127.40,76.56 127.90,76.79 128.41,77.02 C128.91,77.24 129.42,77.47 129.92,77.70 C130.43,77.92 130.93,78.15 131.43,78.38 C131.94,78.61 132.44,78.84 132.95,79.07 C133.45,79.29 133.96,79.52 134.46,79.75 C134.96,79.98 135.47,80.21 135.97,80.45 C136.48,80.68 136.98,80.91 137.48,81.14 C137.99,81.37 138.49,81.61 139.00,81.84 C139.50,82.07 140.01,82.31 140.51,82.54 C141.01,82.77 141.52,83.01 142.02,83.24 C142.53,83.48 143.03,83.71 143.54,83.95 C144.04,84.19 144.54,84.42 145.05,84.66 C145.55,84.90 146.06,85.14 146.56,85.37 C147.06,85.61 147.57,85.85 148.07,86.09 C148.58,86.33 149.08,86.57 149.59,86.81 C150.09,87.05 150.59,87.29 151.10,87.53 C151.60,87.77 152.11,88.02 152.61,88.26 C153.12,88.50 153.62,88.74 154.12,88.99 C154.63,89.23 155.13,89.47 155.64,89.72 C156.14,89.96 156.64,90.21 157.15,90.45 C157.65,90.70 158.16,90.95 158.66,91.19 C159.17,91.44 159.67,91.69 160.17,91.94 C160.68,92.18 161.18,92.43 161.69,92.68 C162.19,92.93 162.70,93.18 163.20,93.43 C163.70,93.68 164.21,93.93 164.71,94.18 C165.22,94.44 165.72,94.69 166.22,94.94 C166.73,95.19 167.23,95.45 167.74,95.70 C168.24,95.95 168.75,96.21 169.25,96.46 C169.75,96.72 170.26,96.97 170.76,97.23 C171.27,97.49 171.77,97.74 172.28,98.00 C172.78,98.26 173.28,98.52 173.79,98.77 C174.29,99.03 174.80,99.29 175.30,99.55 C175.80,99.81 176.31,100.07 176.81,100.33 C177.32,100.59 177.82,100.86 178.33,101.12 C178.83,101.38 179.33,101.64 179.84,101.91 C180.34,102.17 180.85,102.43 181.35,102.70 C181.86,102.96 182.36,103.23 182.86,103.50 C183.37,103.76 183.87,104.03 184.38,104.30 C184.88,104.56 185.38,104.83 185.89,105.10 C186.39,105.37 186.90,105.64 187.40,105.91 C187.91,106.18 188.41,106.45 188.91,106.72 C189.42,106.99 189.92,107.26 190.43,107.54 C190.93,107.81 191.44,108.08 191.94,108.35 C192.44,108.63 192.95,108.90 193.45,109.18 C193.96,109.45 194.46,109.73 194.96,110.01 C195.47,110.28 195.97,110.56 196.48,110.84 C196.98,111.12 197.49,111.39 197.99,111.67 C198.49,111.95 199.00,112.23 199.50,112.51 C200.01,112.79 200.51,113.07 201.02,113.36 C201.52,113.64 202.02,113.92 202.53,114.20 C203.03,114.49 203.54,114.77 204.04,115.06 C204.54,115.34 205.05,115.63 205.55,115.91 C206.06,116.20 206.56,116.49 207.07,116.77 C207.57,117.06 208.07,117.35 208.58,117.64 C209.08,117.93 209.59,118.22 210.09,118.51 C210.60,118.80 211.10,119.09 211.60,119.38 C212.11,119.67 212.61,119.97 213.12,120.26 C213.62,120.55 214.12,120.85 214.63,121.14 C215.13,121.44 215.64,121.73 216.14,122.03 C216.65,122.32 217.15,122.62 217.65,122.92 C218.16,123.22 218.66,123.51 219.17,123.81 C219.67,124.11 220.18,124.41 220.68,124.71 C221.18,125.01 221.69,125.32 222.19,125.62 C222.70,125.92 223.20,126.22 223.70,126.53 C224.21,126.83 224.71,127.14 225.22,127.44 C225.72,127.75 226.23,128.05 226.73,128.36 C227.23,128.67 227.74,128.97 228.24,129.28 C228.75,129.59 229.25,129.90 229.76,130.21 C230.26,130.52 230.76,130.83 231.27,131.14 C231.77,131.45 232.28,131.76 232.78,132.08 C233.28,132.39 233.79,132.70 234.29,133.02 C234.80,133.33 235.30,133.65 235.81,133.96 C236.31,134.28 236.81,134.60 237.32,134.91 C237.82,135.23 238.33,135.55 238.83,135.87 C239.34,136.19 239.84,136.51 240.34,136.83 C240.85,137.15 241.35,137.47 241.86,137.79 C242.36,138.11 242.87,138.43 243.37,138.76 C243.87,139.08 244.38,139.41 244.88,139.73 C245.39,140.05 245.89,140.38 246.39,140.71 C246.90,141.03 247.40,141.36 247.91,141.69 C248.41,142.01 248.92,142.34 249.42,142.67 C249.92,143.00 250.43,143.33 250.93,143.66 C251.44,143.99 251.94,144.32 252.45,144.65 C252.95,144.98 253.45,145.31 253.96,145.64 C254.46,145.98 254.97,146.31 255.47,146.64 C255.97,146.98 256.48,147.31 256.98,147.65 C257.49,147.98 257.99,148.32 258.50,148.65 C259.00,148.99 259.50,149.33 260.01,149.66 C260.51,150.00 261.02,150.34 261.52,150.68 C262.03,151.02 262.53,151.36 263.03,151.69 C263.54,152.03 264.04,152.37 264.55,152.72 C265.05,153.06 265.55,153.40 266.06,153.74 C266.56,154.08 267.07,154.42 267.57,154.77 C268.08,155.11 268.58,155.45 269.08,155.80 C269.59,156.14 270.09,156.49 270.60,156.83 C271.10,157.18 271.61,157.52 272.11,157.87 C272.61,158.22 273.12,158.56 273.62,158.91 C274.13,159.26 274.63,159.61 275.13,159.96 C275.64,160.30 276.14,160.65 276.65,161.00 C277.15,161.35 277.66,161.70 278.16,162.05 C278.66,162.40 279.17,162.75 279.67,163.10 C280.18,163.46 280.68,163.81 281.19,164.16 C281.69,164.51 282.19,164.86 282.70,165.22 C283.20,165.57 283.71,165.92 284.21,166.28 C284.71,166.63 285.22,166.99 285.72,167.34 C286.23,167.70 286.73,168.05 287.24,168.41 C287.74,168.76 288.24,169.12 288.75,169.48 C289.25,169.83 289.76,170.19 290.26,170.55 C290.77,170.91 291.27,171.26 291.77,171.62 C292.28,171.98 292.78,172.34 293.29,172.70 C293.79,173.06 294.29,173.42 294.80,173.78 C295.30,174.14 295.81,174.50 296.31,174.86 C296.82,175.22 297.32,175.58 297.82,175.94 C298.33,176.30 298.83,176.67 299.34,177.03 C299.84,177.39 300.35,177.75 300.85,178.12 C301.35,178.48 301.86,178.84 302.36,179.21 C302.87,179.57 303.37,179.93 303.87,180.30 C304.38,180.66 304.88,181.03 305.39,181.39 C305.89,181.76 306.65,182.30 306.90,182.49" stroke="#000" stroke-width="3"/>
<path d="M31.60,26.17 C31.85,26.31 32.61,26.74 33.11,27.03 C33.62,27.31 34.12,27.60 34.63,27.89 C35.13,28.17 35.63,28.46 36.14,28.74 C36.64,29.03 37.15,29.31 37.65,29.60 C38.15,29.88 38.66,30.17 39.16,30.45 C39.67,30.74 40.17,31.02 40.68,31.31 C41.18,31.59 41.68,31.88 42.19,32.16 C42.69,32.45 43.20,32.73 43.70,33.01 C44.21,33.30 44.71,33.58 45.21,33.87 C45.72,34.15 46.22,34.44 46.73,34.72 C47.23,35.00 47.73,35.29 48.24,35.57 C48.74,35.85 49.25,36.14 49.75,36.42 C50.26,36.70 50.76,36.99 51.26,37.27 C51.77,37.55 52.27,37.84 52.78,38.12 C53.28,38.40 53.79,38.69 54.29,38.97 C54.79,39.25 55.30,39.53 55.80,39.82 C56.31,40.10 56.81,40.38 57.31,40.66 C57.82,40.95 58.32,41.23 58.83,41.51 C59.33,41.79 59.84,42.07 60.34,42.36 C60.84,42.64 61.35,42.92 61.85,43.20 C62.36,43.48 62.86,43.76 63.37,44.05 C63.87,44.33 64.37,44.61 64.88,44.89 C65.38,45.17 65.89,45.45 66.39,45.73 C66.89,46.01 67.40,46.30 67.90,46.58 C68.41,46.86 68.91,47.14 69.42,47.42 C69.92,47.70 70.42,47.98 70.93,48.26 C71.43,48.54 71.94,48.82 72.44,49.10 C72.95,49.38 73.45,49.66 73.95,49.94 C74.46,50.22 74.96,50.50 75.47,50.78 C75.97,51.06 76.47,51.34 76.98,51.62 C77.48,51.90 77.99,52.18 78.49,52.46 C79.00,52.74 79.50,53.02 80.00,53.29 C80.51,53.57 81.01,53.85 81.52,54.13 C82.02,54.41 82.53,54.69 83.03,54.97 C83.53,55.25 84.04,55.52 84.54,55.80 C85.05,56.08 85.55,56.36 86.05,56.64 C86.56,56.92 87.06,57.19 87.57,57.47 C88.07,57.75 88.58,58.03 89.08,58.31 C89.58,58.58 90.09,58.86 90.59,59.14 C91.10,59.42 91.60,59.69 92.11,59.97 C92.61,60.25 93.11,60.53 93.62,60.80 C94.12,61.08 94.63,61.36 95.13,61.63 C95.63,61.91 96.14,62.19 96.64,62.46 C97.15,62.74 97.65,63.02 98.16,63.29 C98.66,63.57 99.16,63.85 99.67,64.12 C100.17,64.40 100.68,64.68 101.18,64.95 C101.69,65.23 102.19,65.50 102.69,65.78 C103.20,66.06 103.70,66.33 104.21,66.61 C104.71,66.88 105.22,67.16 105.72,67.43 C106.22,67.71 106.73,67.99 107.23,68.26 C107.74,68.54 108.24,68.81 108.74,69.09 C109.25,69.36 109.75,69.64 110.26,69.91 C110.76,70.19 111.27,70.46 111.77,70.73 C112.27,71.01 112.78,71.28 113.28,71.56 C113.79,71.83 114.29,72.11 114.80,72.38 C115.30,72.66 115.80,72.93 116.31,73.20 C116.81,73.48 117.32,73.75 117.82,74.02 C118.32,74.30 118.83,74.57 119.33,74.85 C119.84,75.12 120.34,75.39 120.85,75.67 C121.35,75.94 121.85,76.21 122.36,76.49 C122.86,76.76 123.37,77.03 123.87,77.30 C124.38,77.58 124.88,77.85 125.38,78.12 C125.89,78.40 126.39,78.67 126.90,78.94 C127.40,79.21 127.90,79.49 128.41,79.76 C128.91,80.03 129.42,80.30 129.92,80.58 C130.43,80.85 130.93,81.12 131.43,81.39 C131.94,81.66 132.44,81.93 132.95,82.21 C133.45,82.48 133.96,82.75 134.46,83.02 C134.96,83.29 135.47,83.56 135.97,83.84 C136.48,84.11 136.98,84.38 137.48,84.65 C137.99,84.92 138.49,85.19 139.00,85.46 C139.50,85.73 140.01,86.00 140.51,86.27 C141.01,86.54 141.52,86.82 142.02,87.09 C142.53,87.36 143.03,87.63 143.54,87.90 C144.04,88.17 144.54,88.44 145.05,88.71 C145.55,88.98 146.06,89.25 146.56,89.52 C147.06,89.79 147.57,90.06 148.07,90.33 C148.58,90.60 149.08,90.87 149.59,91.13 C150.09,91.40 150.59,91.67 151.10,91.94 C151.60,92.21 152.11,92.48 152.61,92.75 C153.12,93.02 153.62,93.29 154.12,93.56 C154.63,93.83 155.13,94.09 155.64,94.36 C156.14,94.63 156.64,94.90 157.15,95.17 C157.65,95.44 158.16,95.71 158.66,95.97 C159.17,96.24 159.67,96.51 160.17,96.78 C160.68,97.05 161.18,97.31 161.69,97.58 C162.19,97.85 162.70,98.12 163.20,98.38 C163.70,98.65 164.21,98.92 164.71,99.19 C165.22,99.45 165.72,99.72 166.22,99.99 C166.73,100.26 167.23,100.52 167.74,100.79 C168.24,101.06 168.75,101.32 169.25,101.59 C169.75,101.86 170.26,102.12 170.76,102.39 C171.27,102.66 171.77,102.92 172.28,103.19 C172.78,103.46 173.28,103.72 173.79,103.99 C174.29,104.26 174.80,104.52 175.30,104.79 C175.80,105.05 176.31,105.32 176.81,105.59 C177.32,105.85 177.82,106.12 178.33,106.38 C178.83,106.65 179.33,106.91 179.84,107.18 C180.34,107.44 180.85,107.71 181.35,107.97 C181.86,108.24 182.36,108.50 182.86,108.77 C183.37,109.03 183.87,109.30 184.38,109.56 C184.88,109.83 185.38,110.09 185.89,110.36 C186.39,110.62 186.90,110.89 187.40,111.15 C187.91,111.42 188.41,111.68 188.91,111.94 C189.42,112.21 189.92,112.47 190.43,112.74 C190.93,113.00 191.44,113.27 191.94,113.53 C192.44,113.79 192.95,114.06 193.45,114.32 C193.96,114.58 194.46,114.85 194.96,115.11 C195.47,115.37 195.97,115.64 196.48,115.90 C196.98,116.16 197.49,116.43 197.99,116.69 C198.49,116.95 199.00,117.22 199.50,117.48 C200.01,117.74 200.51,118.00 201.02,118.27 C201.52,118.53 202.02,118.79 202.53,119.05 C203.03,119.32 203.54,119.58 204.04,119.84 C204.54,120.10 205.05,120.37 205.55,120.63 C206.06,120.89 206.56,121.15 207.07,121.41 C207.57,121.68 208.07,121.94 208.58,122.20 C209.08,122.46 209.59,122.72 210.09,122.98 C210.60,123.24 211.10,123.51 211.60,123.77 C212.11,124.03 212.61,124.29 213.12,124.55 C213.62,124.81 214.12,125.07 214.63,125.33 C215.13,125.59 215.64,125.86 216.14,126.12 C216.65,126.38 217.15,126.64 217.65,126.90 C218.16,127.16 218.66,127.42 219.17,127.68 C219.67,127.94 220.18,128.20 220.68,128.46 C221.18,128.72 221.69,128.98 222.19,129.24 C222.70,129.50 223.20,129.76 223.70,130.02 C224.21,130.28 224.71,130.54 225.22,130.80 C225.72,131.06 226.23,131.32 226.73,131.58 C227.23,131.84 227.74,132.09 228.24,132.35 C228.75,132.61 229.25,132.87 229.76,133.13 C230.26,133.39 230.76,133.65 231.27,133.91 C231.77,134.17 232.28,134.42 232.78,134.68 C233.28,134.94 233.79,135.20 234.29,135.46 C234.80,135.72 235.30,135.97 235.81,136.23 C236.31,136.49 236.81,136.75 237.32,137.01 C237.82,137.27 238.33,137.52 238.83,137.78 C239.34,138.04 239.84,138.30 240.34,138.55 C240.85,138.81 241.35,139.07 241.86,139.33 C242.36,139.58 242.87,139.84 243.37,140.10 C243.87,140.36 244.38,140.61 244.88,140.87 C245.39,141.13 245.89,141.38 246.39,141.64 C246.90,141.90 247.40,142.15 247.91,142.41 C248.41,142.67 248.92,142.92 249.42,143.18 C249.92,143.44 250.43,143.69 250.93,143.95 C251.44,144.21 251.94,144.46 252.45,144.72 C252.95,144.97 253.45,145.23 253.96,145.49 C254.46,145.74 254.97,146.00 255.47,146.25 C255.97,146.51 256.48,146.77 256.98,147.02 C257.49,147.28 257.99,147.53 258.50,147.79 C259.00,148.04 259.50,148.30 260.01,148.55 C260.51,148.81 261.02,149.06 261.52,149.32 C262.03,149.57 262.53,149.83 263.03,150.08 C263.54,150.34 264.04,150.59 264.55,150.85 C265.05,151.10 265.55,151.36 266.06,151.61 C266.56,151.86 267.07,152.12 267.57,152.37 C268.08,152.63 268.58,152.88 269.08,153.14 C269.59,153.39 270.09,153.64 270.60,153.90 C271.10,154.15 271.61,154.40 272.11,154.66 C272.61,154.91 273.12,155.17 273.62,155.42 C274.13,155.67 274.63,155.93 275.13,156.18 C275.64,156.43 276.14,156.69 276.65,156.94 C277.15,157.19 277.66,157.44 278.16,157.70 C278.66,157.95 279.17,158.20 279.67,158.46 C280.18,158.71 280.68,158.96 281.19,159.21 C281.69,159.47 282.19,159.72 282.70,159.97 C283.20,160.22 283.71,160.48 284.21,160.73 C284.71,160.98 285.22,161.23 285.72,161.48 C286.23,161.74 286.73,161.99 287.24,162.24 C287.74,162.49 288.24,162.74 288.75,163.00 C289.25,163.25 289.76,163.50 290.26,163.75 C290.77,164.00 291.27,164.25 291.77,164.50 C292.28,164.76 292.78,165.01 293.29,165.26 C293.79,165.51 294.29,165.76 294.80,166.01 C295.30,166.26 295.81,166.51 296.31,166.76 C296.82,167.01 297.32,167.26 297.82,167.52 C298.33,167.77 298.83,168.02 299.34,168.27 C299.84,168.52 300.35,168.77 300.85,169.02 C301.35,169.27 301.86,169.52 302.36,169.77 C302.87,170.02 303.37,170.27 303.87,170.52 C304.38,170.77 304.88,171.02 305.39,171.27 C305.89,171.52 306.65,171.89 306.90,172.02" stroke="#00cd00" stroke-width="3"/>
</g>
<rect x="21" y="21" width="297.2" height="278.1" fill="none" stroke="#000" stroke-width="0.85"/>
<path d="M29.15,299.1H307.05M29.15,299.1v4.8M84.73,299.1v4.8M140.31,299.1v4.8M195.89,299.1v4.8M251.47,299.1v4.8M307.05,299.1v4.8" stroke="#000" stroke-width="0.8" fill="none"/>
<text x="29.55" y="315.7" font-size="11" text-anchor="middle">0</text>
<text x="85.13" y="315.7" font-size="11" text-anchor="middle">10</text>
<text x="140.71" y="315.7" font-size="11" text-anchor="middle">20</text>
<text x="196.29" y="315.7" font-size="11" text-anchor="middle">30</text>
<text x="251.87" y="315.7" font-size="11" text-anchor="middle">40</text>
<text x="307.45" y="315.7" font-size="11" text-anchor="middle">50</text>
<path d="M21,288.4V34.4M21,288.4h-5.1M21,252.11h-5.1M21,215.83h-5.1M21,179.54h-5.1M21,143.26h-5.1M21,106.97h-5.1M21,70.69h-5.1M21,34.4h-5.1" stroke="#000" stroke-width="0.8" fill="none"/>
<text transform="translate(10.3,288.4) rotate(-90)" font-size="11" text-anchor="middle">1.000</text>
<text transform="translate(10.3,252.11) rotate(-90)" font-size="11" text-anchor="middle">1.001</text>
<text transform="translate(10.3,215.83) rotate(-90)" font-size="11" text-anchor="middle">1.002</text>
<text transform="translate(10.3,179.54) rotate(-90)" font-size="11" text-anchor="middle">1.003</text>
<text transform="translate(10.3,143.26) rotate(-90)" font-size="11" text-anchor="middle">1.004</text>
<text transform="translate(10.3,106.97) rotate(-90)" font-size="11" text-anchor="middle">1.005</text>
<text transform="translate(10.3,70.69) rotate(-90)" font-size="11" text-anchor="middle">1.006</text>
<text transform="translate(10.3,34.4) rotate(-90)" font-size="11" text-anchor="middle">1.007</text>
<text transform="translate(169.5,15.7) scale(1.08,1)" font-size="14.8" font-weight="bold" text-anchor="middle">2:2 (0.3)</text>
</g>
<g transform="translate(320,320)">
<clipPath id="c4"><rect x="21" y="21" width="297.2" height="278.1"/></clipPath>
<g clip-path="url(#c4)" fill="none" stroke-linejoin="round" stroke-linecap="round">
<path d="M31.00,175.20 L306.90,176.20" stroke="#efefef" stroke-width="1.6"/>
<path d="M31.00,176.70 L306.90,177.70" stroke="#dedede" stroke-width="1.3"/>
<path d="M31.90,293.64 C32.15,293.61 32.91,293.53 33.41,293.48 C33.91,293.43 34.42,293.38 34.92,293.33 C35.42,293.27 35.93,293.22 36.43,293.17 C36.93,293.12 37.44,293.07 37.94,293.02 C38.45,292.97 38.95,292.92 39.45,292.87 C39.96,292.82 40.46,292.78 40.96,292.73 C41.47,292.68 41.97,292.63 42.47,292.59 C42.98,292.54 43.48,292.49 43.98,292.45 C44.49,292.40 44.99,292.35 45.49,292.31 C46.00,292.26 46.50,292.22 47.00,292.17 C47.51,292.13 48.01,292.08 48.52,292.04 C49.02,292.00 49.52,291.95 50.03,291.91 C50.53,291.87 51.03,291.82 51.54,291.78 C52.04,291.74 52.54,291.70 53.05,291.65 C53.55,291.61 54.05,291.57 54.56,291.53 C55.06,291.49 55.56,291.45 56.07,291.40 C56.57,291.36 57.07,291.32 57.58,291.28 C58.08,291.24 58.58,291.20 59.09,291.16 C59.59,291.12 60.10,291.08 60.60,291.04 C61.10,291.00 61.61,290.96 62.11,290.93 C62.61,290.89 63.12,290.85 63.62,290.81 C64.12,290.77 64.63,290.73 65.13,290.69 C65.63,290.66 66.14,290.62 66.64,290.58 C67.14,290.54 67.65,290.50 68.15,290.47 C68.65,290.43 69.16,290.39 69.66,290.35 C70.17,290.32 70.67,290.28 71.17,290.24 C71.68,290.21 72.18,290.17 72.68,290.13 C73.19,290.09 73.69,290.06 74.19,290.02 C74.70,289.98 75.20,289.95 75.70,289.91 C76.21,289.87 76.71,289.84 77.21,289.80 C77.72,289.76 78.22,289.73 78.72,289.69 C79.23,289.66 79.73,289.62 80.23,289.58 C80.74,289.55 81.24,289.51 81.75,289.47 C82.25,289.44 82.75,289.40 83.26,289.36 C83.76,289.33 84.26,289.29 84.77,289.26 C85.27,289.22 85.77,289.18 86.28,289.15 C86.78,289.11 87.28,289.07 87.79,289.04 C88.29,289.00 88.79,288.96 89.30,288.93 C89.80,288.89 90.30,288.85 90.81,288.82 C91.31,288.78 91.82,288.74 92.32,288.70 C92.82,288.67 93.33,288.63 93.83,288.59 C94.33,288.55 94.84,288.52 95.34,288.48 C95.84,288.44 96.35,288.40 96.85,288.37 C97.35,288.33 97.86,288.29 98.36,288.25 C98.86,288.21 99.37,288.17 99.87,288.14 C100.37,288.10 100.88,288.06 101.38,288.02 C101.88,287.98 102.39,287.94 102.89,287.90 C103.40,287.86 103.90,287.82 104.40,287.78 C104.91,287.74 105.41,287.70 105.91,287.66 C106.42,287.62 106.92,287.58 107.42,287.54 C107.93,287.50 108.43,287.45 108.93,287.41 C109.44,287.37 109.94,287.33 110.44,287.29 C110.95,287.25 111.45,287.20 111.95,287.16 C112.46,287.12 112.96,287.07 113.47,287.03 C113.97,286.99 114.47,286.94 114.98,286.90 C115.48,286.85 115.98,286.81 116.49,286.76 C116.99,286.72 117.49,286.67 118.00,286.63 C118.50,286.58 119.00,286.54 119.51,286.49 C120.01,286.44 120.51,286.40 121.02,286.35 C121.52,286.30 122.02,286.25 122.53,286.21 C123.03,286.16 123.53,286.11 124.04,286.06 C124.54,286.01 125.05,285.96 125.55,285.91 C126.05,285.86 126.56,285.81 127.06,285.76 C127.56,285.71 128.07,285.66 128.57,285.60 C129.07,285.55 129.58,285.50 130.08,285.45 C130.58,285.39 131.09,285.34 131.59,285.29 C132.09,285.23 132.60,285.18 133.10,285.12 C133.60,285.07 134.11,285.01 134.61,284.96 C135.12,284.90 135.62,284.84 136.12,284.79 C136.63,284.73 137.13,284.67 137.63,284.61 C138.14,284.55 138.64,284.49 139.14,284.43 C139.65,284.37 140.15,284.31 140.65,284.25 C141.16,284.19 141.66,284.13 142.16,284.07 C142.67,284.01 143.17,283.94 143.67,283.88 C144.18,283.81 144.68,283.75 145.18,283.69 C145.69,283.62 146.19,283.56 146.70,283.49 C147.20,283.42 147.70,283.36 148.21,283.29 C148.71,283.22 149.21,283.15 149.72,283.08 C150.22,283.01 150.72,282.94 151.23,282.87 C151.73,282.80 152.23,282.73 152.74,282.66 C153.24,282.59 153.74,282.51 154.25,282.44 C154.75,282.37 155.25,282.29 155.76,282.22 C156.26,282.14 156.77,282.07 157.27,281.99 C157.77,281.91 158.28,281.83 158.78,281.76 C159.28,281.68 159.79,281.60 160.29,281.52 C160.79,281.44 161.30,281.36 161.80,281.28 C162.30,281.19 162.81,281.11 163.31,281.03 C163.81,280.94 164.32,280.86 164.82,280.77 C165.32,280.69 165.83,280.60 166.33,280.52 C166.83,280.43 167.34,280.34 167.84,280.25 C168.35,280.16 168.85,280.07 169.35,279.98 C169.86,279.89 170.36,279.80 170.86,279.71 C171.37,279.61 171.87,279.52 172.37,279.43 C172.88,279.33 173.38,279.24 173.88,279.14 C174.39,279.04 174.89,278.95 175.39,278.85 C175.90,278.75 176.40,278.65 176.90,278.55 C177.41,278.45 177.91,278.35 178.42,278.24 C178.92,278.14 179.42,278.04 179.93,277.93 C180.43,277.83 180.93,277.72 181.44,277.62 C181.94,277.51 182.44,277.40 182.95,277.29 C183.45,277.18 183.95,277.07 184.46,276.96 C184.96,276.85 185.46,276.74 185.97,276.63 C186.47,276.51 186.97,276.40 187.48,276.28 C187.98,276.17 188.48,276.05 188.99,275.93 C189.49,275.82 190.00,275.70 190.50,275.58 C191.00,275.46 191.51,275.34 192.01,275.21 C192.51,275.09 193.02,274.97 193.52,274.84 C194.02,274.72 194.53,274.59 195.03,274.47 C195.53,274.34 196.04,274.21 196.54,274.08 C197.04,273.95 197.55,273.82 198.05,273.69 C198.55,273.56 199.06,273.42 199.56,273.29 C200.07,273.15 200.57,273.02 201.07,272.88 C201.58,272.74 202.08,272.60 202.58,272.46 C203.09,272.32 203.59,272.18 204.09,272.04 C204.60,271.90 205.10,271.75 205.60,271.61 C206.11,271.46 206.61,271.32 207.11,271.17 C207.62,271.02 208.12,270.87 208.62,270.72 C209.13,270.57 209.63,270.41 210.13,270.26 C210.64,270.11 211.14,269.95 211.65,269.79 C212.15,269.64 212.65,269.48 213.16,269.32 C213.66,269.16 214.16,269.00 214.67,268.83 C215.17,268.67 215.67,268.51 216.18,268.34 C216.68,268.18 217.18,268.01 217.69,267.84 C218.19,267.67 218.69,267.50 219.20,267.33 C219.70,267.15 220.20,266.98 220.71,266.80 C221.21,266.63 221.72,266.45 222.22,266.27 C222.72,266.09 223.23,265.91 223.73,265.73 C224.23,265.55 224.74,265.36 225.24,265.18 C225.74,264.99 226.25,264.80 226.75,264.61 C227.25,264.43 227.76,264.23 228.26,264.04 C228.76,263.85 229.27,263.65 229.77,263.46 C230.27,263.26 230.78,263.06 231.28,262.86 C231.78,262.66 232.29,262.46 232.79,262.26 C233.30,262.06 233.80,261.85 234.30,261.64 C234.81,261.44 235.31,261.23 235.81,261.02 C236.32,260.80 236.82,260.59 237.32,260.38 C237.83,260.16 238.33,259.95 238.83,259.73 C239.34,259.51 239.84,259.29 240.34,259.07 C240.85,258.84 241.35,258.62 241.85,258.39 C242.36,258.17 242.86,257.94 243.37,257.71 C243.87,257.48 244.37,257.24 244.88,257.01 C245.38,256.77 245.88,256.54 246.39,256.30 C246.89,256.06 247.39,255.82 247.90,255.58 C248.40,255.33 248.90,255.09 249.41,254.84 C249.91,254.60 250.41,254.35 250.92,254.10 C251.42,253.84 251.92,253.59 252.43,253.34 C252.93,253.08 253.43,252.82 253.94,252.56 C254.44,252.30 254.95,252.04 255.45,251.78 C255.95,251.51 256.46,251.25 256.96,250.98 C257.46,250.71 257.97,250.44 258.47,250.16 C258.97,249.89 259.48,249.62 259.98,249.34 C260.48,249.06 260.99,248.78 261.49,248.50 C261.99,248.22 262.50,247.93 263.00,247.64 C263.50,247.36 264.01,247.07 264.51,246.78 C265.02,246.49 265.52,246.19 266.02,245.90 C266.53,245.60 267.03,245.30 267.53,245.00 C268.04,244.70 268.54,244.39 269.04,244.09 C269.55,243.78 270.05,243.47 270.55,243.16 C271.06,242.85 271.56,242.54 272.06,242.22 C272.57,241.91 273.07,241.59 273.57,241.27 C274.08,240.95 274.58,240.62 275.08,240.30 C275.59,239.97 276.09,239.64 276.60,239.31 C277.10,238.98 277.60,238.65 278.11,238.31 C278.61,237.98 279.11,237.64 279.62,237.30 C280.12,236.96 280.62,236.61 281.13,236.26 C281.63,235.92 282.13,235.57 282.64,235.22 C283.14,234.87 283.64,234.51 284.15,234.15 C284.65,233.80 285.15,233.44 285.66,233.07 C286.16,232.71 286.67,232.35 287.17,231.98 C287.67,231.61 288.18,231.24 288.68,230.87 C289.18,230.49 289.69,230.12 290.19,229.74 C290.69,229.36 291.15,229.05 291.70,228.59 C292.25,228.14 292.87,227.33 293.50,227.00 C294.13,226.67 294.75,226.68 295.50,226.60 C296.25,226.52 296.10,226.52 298.00,226.50 C299.90,226.48 305.42,226.50 306.90,226.50" stroke="#dedede" stroke-width="1.3"/>
<path d="M21,31.4H318.2" stroke="#ff0000" stroke-width="0.7"/>
<path d="M31.90,288.10 C32.15,288.10 32.91,288.08 33.41,288.07 C33.91,288.06 34.42,288.05 34.92,288.04 C35.43,288.03 35.93,288.02 36.43,288.01 C36.94,288.01 37.44,288.00 37.94,287.99 C38.45,287.98 38.95,287.97 39.45,287.96 C39.96,287.95 40.46,287.94 40.97,287.93 C41.47,287.92 41.97,287.91 42.48,287.90 C42.98,287.89 43.48,287.89 43.99,287.88 C44.49,287.87 45.00,287.86 45.50,287.85 C46.00,287.84 46.51,287.83 47.01,287.82 C47.51,287.81 48.02,287.80 48.52,287.80 C49.02,287.79 49.53,287.78 50.03,287.77 C50.54,287.76 51.04,287.75 51.54,287.74 C52.05,287.73 52.55,287.73 53.05,287.72 C53.56,287.71 54.06,287.70 54.56,287.69 C55.07,287.68 55.57,287.67 56.08,287.67 C56.58,287.66 57.08,287.65 57.59,287.64 C58.09,287.63 58.59,287.62 59.10,287.61 C59.60,287.61 60.11,287.60 60.61,287.59 C61.11,287.58 61.62,287.57 62.12,287.56 C62.62,287.56 63.13,287.55 63.63,287.54 C64.13,287.53 64.64,287.52 65.14,287.51 C65.65,287.51 66.15,287.50 66.65,287.49 C67.16,287.48 67.66,287.47 68.16,287.46 C68.67,287.45 69.17,287.45 69.67,287.44 C70.18,287.43 70.68,287.42 71.19,287.41 C71.69,287.40 72.19,287.40 72.70,287.39 C73.20,287.38 73.70,287.37 74.21,287.36 C74.71,287.35 75.22,287.35 75.72,287.34 C76.22,287.33 76.73,287.32 77.23,287.31 C77.73,287.31 78.24,287.30 78.74,287.29 C79.24,287.28 79.75,287.27 80.25,287.27 C80.76,287.26 81.26,287.25 81.76,287.24 C82.27,287.24 82.77,287.23 83.27,287.22 C83.78,287.21 84.28,287.21 84.78,287.20 C85.29,287.19 85.79,287.19 86.30,287.18 C86.80,287.17 87.30,287.17 87.81,287.16 C88.31,287.15 88.81,287.15 89.32,287.14 C89.82,287.13 90.32,287.13 90.83,287.12 C91.33,287.12 91.84,287.11 92.34,287.11 C92.84,287.10 93.35,287.10 93.85,287.09 C94.35,287.08 94.86,287.08 95.36,287.07 C95.87,287.07 96.37,287.06 96.87,287.06 C97.38,287.06 97.88,287.05 98.38,287.05 C98.89,287.04 99.39,287.04 99.89,287.03 C100.40,287.03 100.90,287.02 101.41,287.02 C101.91,287.02 102.41,287.01 102.92,287.01 C103.42,287.00 103.92,287.00 104.43,287.00 C104.93,286.99 105.43,286.99 105.94,286.98 C106.44,286.98 106.95,286.98 107.45,286.97 C107.95,286.97 108.46,286.96 108.96,286.96 C109.46,286.96 109.97,286.95 110.47,286.95 C110.98,286.95 111.48,286.94 111.98,286.94 C112.49,286.93 112.99,286.93 113.49,286.93 C114.00,286.92 114.50,286.92 115.00,286.92 C115.51,286.91 116.01,286.91 116.52,286.91 C117.02,286.90 117.52,286.90 118.03,286.90 C118.53,286.89 119.03,286.89 119.54,286.88 C120.04,286.88 120.54,286.88 121.05,286.87 C121.55,286.87 122.06,286.87 122.56,286.86 C123.06,286.86 123.57,286.85 124.07,286.85 C124.57,286.85 125.08,286.84 125.58,286.84 C126.08,286.83 126.59,286.83 127.09,286.83 C127.60,286.82 128.10,286.82 128.60,286.81 C129.11,286.81 129.61,286.80 130.11,286.80 C130.62,286.79 131.12,286.79 131.63,286.79 C132.13,286.78 132.63,286.78 133.14,286.77 C133.64,286.77 134.14,286.76 134.65,286.76 C135.15,286.75 135.65,286.75 136.16,286.75 C136.66,286.74 137.17,286.74 137.67,286.73 C138.17,286.73 138.68,286.72 139.18,286.72 C139.68,286.71 140.19,286.71 140.69,286.71 C141.19,286.70 141.70,286.70 142.20,286.69 C142.71,286.69 143.21,286.68 143.71,286.68 C144.22,286.67 144.72,286.67 145.22,286.66 C145.73,286.66 146.23,286.65 146.74,286.65 C147.24,286.64 147.74,286.64 148.25,286.63 C148.75,286.63 149.25,286.62 149.76,286.62 C150.26,286.61 150.76,286.61 151.27,286.60 C151.77,286.60 152.28,286.59 152.78,286.59 C153.28,286.58 153.79,286.58 154.29,286.57 C154.79,286.56 155.30,286.56 155.80,286.55 C156.30,286.55 156.81,286.54 157.31,286.53 C157.82,286.53 158.32,286.52 158.82,286.52 C159.33,286.51 159.83,286.50 160.33,286.50 C160.84,286.49 161.34,286.48 161.85,286.47 C162.35,286.47 162.85,286.46 163.36,286.45 C163.86,286.44 164.36,286.44 164.87,286.43 C165.37,286.42 165.87,286.41 166.38,286.40 C166.88,286.39 167.39,286.39 167.89,286.38 C168.39,286.37 168.90,286.36 169.40,286.35 C169.90,286.34 170.41,286.33 170.91,286.32 C171.41,286.31 171.92,286.30 172.42,286.29 C172.93,286.28 173.43,286.27 173.93,286.26 C174.44,286.25 174.94,286.24 175.44,286.23 C175.95,286.22 176.45,286.21 176.95,286.20 C177.46,286.19 177.96,286.18 178.47,286.17 C178.97,286.16 179.47,286.15 179.98,286.13 C180.48,286.12 180.98,286.11 181.49,286.10 C181.99,286.09 182.50,286.08 183.00,286.07 C183.50,286.05 184.01,286.04 184.51,286.03 C185.01,286.02 185.52,286.01 186.02,286.00 C186.52,285.98 187.03,285.97 187.53,285.96 C188.04,285.95 188.54,285.94 189.04,285.92 C189.55,285.91 190.05,285.90 190.55,285.89 C191.06,285.87 191.56,285.86 192.06,285.85 C192.57,285.84 193.07,285.82 193.58,285.81 C194.08,285.80 194.58,285.78 195.09,285.77 C195.59,285.76 196.09,285.74 196.60,285.73 C197.10,285.72 197.61,285.70 198.11,285.69 C198.61,285.68 199.12,285.66 199.62,285.65 C200.12,285.63 200.63,285.62 201.13,285.60 C201.63,285.59 202.14,285.57 202.64,285.55 C203.15,285.54 203.65,285.52 204.15,285.51 C204.66,285.49 205.16,285.47 205.66,285.46 C206.17,285.44 206.67,285.42 207.17,285.40 C207.68,285.39 208.18,285.37 208.69,285.35 C209.19,285.33 209.69,285.31 210.20,285.29 C210.70,285.27 211.20,285.25 211.71,285.23 C212.21,285.21 212.72,285.19 213.22,285.17 C213.72,285.15 214.23,285.12 214.73,285.10 C215.23,285.08 215.74,285.06 216.24,285.03 C216.74,285.01 217.25,284.98 217.75,284.96 C218.26,284.93 218.76,284.91 219.26,284.88 C219.77,284.86 220.27,284.83 220.77,284.80 C221.28,284.78 221.78,284.75 222.28,284.72 C222.79,284.70 223.29,284.67 223.80,284.64 C224.30,284.61 224.80,284.58 225.31,284.55 C225.81,284.52 226.31,284.50 226.82,284.47 C227.32,284.44 227.82,284.41 228.33,284.38 C228.83,284.35 229.34,284.31 229.84,284.28 C230.34,284.25 230.85,284.22 231.35,284.19 C231.85,284.16 232.36,284.13 232.86,284.09 C233.37,284.06 233.87,284.03 234.37,284.00 C234.88,283.96 235.38,283.93 235.88,283.90 C236.39,283.87 236.89,283.83 237.39,283.80 C237.90,283.77 238.40,283.73 238.91,283.70 C239.41,283.66 239.91,283.63 240.42,283.60 C240.92,283.56 241.42,283.53 241.93,283.49 C242.43,283.46 242.93,283.43 243.44,283.39 C243.94,283.36 244.45,283.32 244.95,283.29 C245.45,283.25 245.96,283.21 246.46,283.18 C246.96,283.14 247.47,283.10 247.97,283.07 C248.48,283.03 248.98,282.99 249.48,282.95 C249.99,282.91 250.49,282.88 250.99,282.84 C251.50,282.80 252.00,282.76 252.50,282.72 C253.01,282.68 253.51,282.64 254.02,282.59 C254.52,282.55 255.02,282.51 255.53,282.47 C256.03,282.43 256.53,282.38 257.04,282.34 C257.54,282.30 258.04,282.25 258.55,282.21 C259.05,282.16 259.56,282.12 260.06,282.07 C260.56,282.02 261.07,281.98 261.57,281.93 C262.07,281.88 262.58,281.84 263.08,281.79 C263.58,281.74 264.09,281.69 264.59,281.64 C265.10,281.59 265.60,281.54 266.10,281.49 C266.61,281.43 267.11,281.38 267.61,281.32 C268.12,281.26 268.62,281.20 269.13,281.14 C269.63,281.08 270.13,281.02 270.64,280.95 C271.14,280.89 271.64,280.83 272.15,280.76 C272.65,280.70 273.15,280.63 273.66,280.57 C274.16,280.50 274.67,280.44 275.17,280.38 C275.67,280.31 276.18,280.25 276.68,280.19 C277.18,280.13 277.69,280.06 278.19,280.00 C278.69,279.95 279.20,279.89 279.70,279.83 C280.21,279.78 280.71,279.72 281.21,279.66 C281.72,279.61 282.22,279.55 282.72,279.49 C283.23,279.43 283.73,279.37 284.24,279.32 C284.74,279.26 285.24,279.20 285.75,279.15 C286.25,279.10 286.75,279.05 287.26,279.00 C287.76,278.96 288.26,278.91 288.77,278.88 C289.27,278.84 289.78,278.81 290.28,278.78 C290.78,278.76 291.29,278.73 291.79,278.70 C292.29,278.68 292.80,278.65 293.30,278.63 C293.80,278.60 294.31,278.58 294.81,278.56 C295.32,278.55 295.82,278.53 296.32,278.52 C296.83,278.51 297.33,278.50 297.83,278.50 C298.34,278.50 298.84,278.50 299.35,278.50 C299.85,278.50 300.35,278.50 300.86,278.50 C301.36,278.50 301.86,278.50 302.37,278.50 C302.87,278.50 303.37,278.50 303.88,278.50 C304.38,278.50 304.89,278.50 305.39,278.50 C305.89,278.50 306.65,278.50 306.90,278.50" stroke="#000" stroke-width="3"/>
<path d="M31.90,289.87 C32.15,289.86 32.91,289.82 33.41,289.80 C33.91,289.78 34.42,289.76 34.92,289.74 C35.43,289.72 35.93,289.69 36.43,289.67 C36.94,289.65 37.44,289.63 37.94,289.61 C38.45,289.59 38.95,289.57 39.45,289.54 C39.96,289.52 40.46,289.50 40.97,289.48 C41.47,289.46 41.97,289.44 42.48,289.42 C42.98,289.40 43.48,289.38 43.99,289.36 C44.49,289.33 45.00,289.31 45.50,289.29 C46.00,289.27 46.51,289.25 47.01,289.23 C47.51,289.21 48.02,289.19 48.52,289.17 C49.02,289.15 49.53,289.13 50.03,289.11 C50.54,289.09 51.04,289.07 51.54,289.05 C52.05,289.03 52.55,289.01 53.05,288.99 C53.56,288.97 54.06,288.95 54.56,288.93 C55.07,288.91 55.57,288.89 56.08,288.87 C56.58,288.85 57.08,288.83 57.59,288.81 C58.09,288.79 58.59,288.77 59.10,288.75 C59.60,288.73 60.11,288.71 60.61,288.69 C61.11,288.67 61.62,288.65 62.12,288.63 C62.62,288.61 63.13,288.59 63.63,288.58 C64.13,288.56 64.64,288.54 65.14,288.52 C65.65,288.50 66.15,288.48 66.65,288.46 C67.16,288.44 67.66,288.42 68.16,288.40 C68.67,288.39 69.17,288.37 69.67,288.35 C70.18,288.33 70.68,288.31 71.19,288.29 C71.69,288.27 72.19,288.25 72.70,288.24 C73.20,288.22 73.70,288.20 74.21,288.18 C74.71,288.16 75.22,288.14 75.72,288.13 C76.22,288.11 76.73,288.09 77.23,288.07 C77.73,288.05 78.24,288.03 78.74,288.02 C79.24,288.00 79.75,287.98 80.25,287.96 C80.76,287.94 81.26,287.93 81.76,287.91 C82.27,287.89 82.77,287.87 83.27,287.85 C83.78,287.84 84.28,287.82 84.78,287.80 C85.29,287.78 85.79,287.77 86.30,287.75 C86.80,287.73 87.30,287.71 87.81,287.69 C88.31,287.68 88.81,287.66 89.32,287.64 C89.82,287.62 90.32,287.61 90.83,287.59 C91.33,287.57 91.84,287.56 92.34,287.54 C92.84,287.52 93.35,287.50 93.85,287.49 C94.35,287.47 94.86,287.45 95.36,287.43 C95.87,287.42 96.37,287.40 96.87,287.38 C97.38,287.37 97.88,287.35 98.38,287.33 C98.89,287.32 99.39,287.30 99.89,287.28 C100.40,287.27 100.90,287.25 101.41,287.23 C101.91,287.21 102.41,287.20 102.92,287.18 C103.42,287.16 103.92,287.15 104.43,287.13 C104.93,287.11 105.43,287.10 105.94,287.08 C106.44,287.06 106.95,287.05 107.45,287.03 C107.95,287.02 108.46,287.00 108.96,286.98 C109.46,286.97 109.97,286.95 110.47,286.93 C110.98,286.92 111.48,286.90 111.98,286.88 C112.49,286.87 112.99,286.85 113.49,286.84 C114.00,286.82 114.50,286.80 115.00,286.79 C115.51,286.77 116.01,286.76 116.52,286.74 C117.02,286.72 117.52,286.71 118.03,286.69 C118.53,286.67 119.03,286.66 119.54,286.64 C120.04,286.63 120.54,286.61 121.05,286.60 C121.55,286.58 122.06,286.56 122.56,286.55 C123.06,286.53 123.57,286.52 124.07,286.50 C124.57,286.48 125.08,286.47 125.58,286.45 C126.08,286.44 126.59,286.42 127.09,286.41 C127.60,286.39 128.10,286.37 128.60,286.36 C129.11,286.34 129.61,286.33 130.11,286.31 C130.62,286.30 131.12,286.28 131.63,286.27 C132.13,286.25 132.63,286.24 133.14,286.22 C133.64,286.20 134.14,286.19 134.65,286.17 C135.15,286.16 135.65,286.14 136.16,286.13 C136.66,286.11 137.17,286.10 137.67,286.08 C138.17,286.07 138.68,286.05 139.18,286.04 C139.68,286.02 140.19,286.01 140.69,285.99 C141.19,285.97 141.70,285.96 142.20,285.94 C142.71,285.93 143.21,285.91 143.71,285.90 C144.22,285.88 144.72,285.87 145.22,285.85 C145.73,285.84 146.23,285.82 146.74,285.81 C147.24,285.79 147.74,285.78 148.25,285.76 C148.75,285.75 149.25,285.73 149.76,285.72 C150.26,285.70 150.76,285.69 151.27,285.67 C151.77,285.66 152.28,285.64 152.78,285.63 C153.28,285.61 153.79,285.60 154.29,285.58 C154.79,285.57 155.30,285.55 155.80,285.54 C156.30,285.52 156.81,285.51 157.31,285.49 C157.82,285.48 158.32,285.47 158.82,285.45 C159.33,285.44 159.83,285.42 160.33,285.41 C160.84,285.39 161.34,285.38 161.85,285.36 C162.35,285.35 162.85,285.33 163.36,285.32 C163.86,285.30 164.36,285.29 164.87,285.27 C165.37,285.26 165.87,285.24 166.38,285.23 C166.88,285.21 167.39,285.20 167.89,285.19 C168.39,285.17 168.90,285.16 169.40,285.14 C169.90,285.13 170.41,285.11 170.91,285.10 C171.41,285.08 171.92,285.07 172.42,285.05 C172.93,285.04 173.43,285.02 173.93,285.01 C174.44,284.99 174.94,284.98 175.44,284.97 C175.95,284.95 176.45,284.94 176.95,284.92 C177.46,284.91 177.96,284.89 178.47,284.88 C178.97,284.86 179.47,284.85 179.98,284.83 C180.48,284.82 180.98,284.80 181.49,284.79 C181.99,284.78 182.50,284.76 183.00,284.75 C183.50,284.73 184.01,284.72 184.51,284.70 C185.01,284.69 185.52,284.67 186.02,284.66 C186.52,284.64 187.03,284.63 187.53,284.62 C188.04,284.60 188.54,284.59 189.04,284.57 C189.55,284.56 190.05,284.54 190.55,284.53 C191.06,284.51 191.56,284.50 192.06,284.48 C192.57,284.47 193.07,284.46 193.58,284.44 C194.08,284.43 194.58,284.41 195.09,284.40 C195.59,284.38 196.09,284.37 196.60,284.35 C197.10,284.34 197.61,284.32 198.11,284.31 C198.61,284.29 199.12,284.28 199.62,284.27 C200.12,284.25 200.63,284.24 201.13,284.22 C201.63,284.21 202.14,284.19 202.64,284.18 C203.15,284.16 203.65,284.15 204.15,284.13 C204.66,284.12 205.16,284.10 205.66,284.09 C206.17,284.07 206.67,284.06 207.17,284.04 C207.68,284.03 208.18,284.02 208.69,284.00 C209.19,283.99 209.69,283.97 210.20,283.96 C210.70,283.94 211.20,283.93 211.71,283.91 C212.21,283.90 212.72,283.88 213.22,283.87 C213.72,283.85 214.23,283.84 214.73,283.82 C215.23,283.81 215.74,283.79 216.24,283.78 C216.74,283.76 217.25,283.75 217.75,283.73 C218.26,283.72 218.76,283.70 219.26,283.69 C219.77,283.67 220.27,283.66 220.77,283.64 C221.28,283.63 221.78,283.61 222.28,283.60 C222.79,283.58 223.29,283.57 223.80,283.55 C224.30,283.54 224.80,283.52 225.31,283.51 C225.81,283.49 226.31,283.48 226.82,283.46 C227.32,283.45 227.82,283.43 228.33,283.42 C228.83,283.40 229.34,283.39 229.84,283.37 C230.34,283.36 230.85,283.34 231.35,283.33 C231.85,283.31 232.36,283.30 232.86,283.28 C233.37,283.27 233.87,283.25 234.37,283.24 C234.88,283.22 235.38,283.21 235.88,283.19 C236.39,283.17 236.89,283.16 237.39,283.14 C237.90,283.13 238.40,283.11 238.91,283.10 C239.41,283.08 239.91,283.07 240.42,283.05 C240.92,283.04 241.42,283.02 241.93,283.00 C242.43,282.99 242.93,282.97 243.44,282.96 C243.94,282.94 244.45,282.93 244.95,282.91 C245.45,282.90 245.96,282.88 246.46,282.86 C246.96,282.85 247.47,282.83 247.97,282.82 C248.48,282.80 248.98,282.79 249.48,282.77 C249.99,282.75 250.49,282.74 250.99,282.72 C251.50,282.71 252.00,282.69 252.50,282.67 C253.01,282.66 253.51,282.64 254.02,282.63 C254.52,282.61 255.02,282.59 255.53,282.58 C256.03,282.56 256.53,282.55 257.04,282.53 C257.54,282.51 258.04,282.50 258.55,282.48 C259.05,282.46 259.56,282.45 260.06,282.43 C260.56,282.42 261.07,282.40 261.57,282.38 C262.07,282.37 262.58,282.35 263.08,282.33 C263.58,282.32 264.09,282.30 264.59,282.28 C265.10,282.27 265.60,282.25 266.10,282.23 C266.61,282.22 267.11,282.20 267.61,282.18 C268.12,282.17 268.62,282.15 269.13,282.13 C269.63,282.12 270.13,282.10 270.64,282.08 C271.14,282.07 271.64,282.05 272.15,282.03 C272.65,282.02 273.15,282.00 273.66,281.98 C274.16,281.97 274.67,281.95 275.17,281.93 C275.67,281.92 276.18,281.90 276.68,281.88 C277.18,281.86 277.69,281.85 278.19,281.83 C278.69,281.81 279.20,281.79 279.70,281.78 C280.21,281.76 280.71,281.74 281.21,281.73 C281.72,281.71 282.22,281.69 282.72,281.67 C283.23,281.66 283.73,281.64 284.24,281.62 C284.74,281.60 285.24,281.59 285.75,281.57 C286.25,281.55 286.75,281.53 287.26,281.51 C287.76,281.50 288.26,281.48 288.77,281.46 C289.27,281.44 289.78,281.43 290.28,281.41 C290.78,281.39 291.29,281.37 291.79,281.35 C292.29,281.33 292.80,281.32 293.30,281.30 C293.80,281.28 294.31,281.26 294.81,281.24 C295.32,281.23 295.82,281.21 296.32,281.19 C296.83,281.17 297.33,281.15 297.83,281.13 C298.34,281.12 298.84,281.10 299.35,281.08 C299.85,281.06 300.35,281.04 300.86,281.02 C301.36,281.00 301.86,280.98 302.37,280.97 C302.87,280.95 303.37,280.93 303.88,280.91 C304.38,280.89 304.89,280.87 305.39,280.85 C305.89,280.83 306.65,280.80 306.90,280.80" stroke="#00cd00" stroke-width="3"/>
</g>
<rect x="21" y="21" width="297.2" height="278.1" fill="none" stroke="#000" stroke-width="0.85"/>
<path d="M29.15,299.1H307.05M29.15,299.1v4.8M84.73,299.1v4.8M140.31,299.1v4.8M195.89,299.1v4.8M251.47,299.1v4.8M307.05,299.1v4.8" stroke="#000" stroke-width="0.8" fill="none"/>
<text x="29.55" y="315.7" font-size="11" text-anchor="middle">0</text>
<text x="85.13" y="315.7" font-size="11" text-anchor="middle">10</text>
<text x="140.71" y="315.7" font-size="11" text-anchor="middle">20</text>
<text x="196.29" y="315.7" font-size="11" text-anchor="middle">30</text>
<text x="251.87" y="315.7" font-size="11" text-anchor="middle">40</text>
<text x="307.45" y="315.7" font-size="11" text-anchor="middle">50</text>
<path d="M21,266.9V31.4M21,266.9h-5.1M21,208.02h-5.1M21,149.15h-5.1M21,90.27h-5.1M21,31.4h-5.1" stroke="#000" stroke-width="0.8" fill="none"/>
<text transform="translate(10.3,266.9) rotate(-90)" font-size="11" text-anchor="middle">0.2</text>
<text transform="translate(10.3,208.02) rotate(-90)" font-size="11" text-anchor="middle">0.4</text>
<text transform="translate(10.3,149.15) rotate(-90)" font-size="11" text-anchor="middle">0.6</text>
<text transform="translate(10.3,90.27) rotate(-90)" font-size="11" text-anchor="middle">0.8</text>
<text transform="translate(10.3,31.4) rotate(-90)" font-size="11" text-anchor="middle">1.0</text>
<text transform="translate(169.5,15.7) scale(1.08,1)" font-size="14.8" font-weight="bold" text-anchor="middle">2:3 (0)</text>
</g>
<g transform="translate(640,320)">
<clipPath id="c5"><rect x="21" y="21" width="297.2" height="278.1"/></clipPath>
<g clip-path="url(#c5)" fill="none" stroke-linejoin="round" stroke-linecap="round">
<path d="M31.90,163.80 C41.03,162.47 69.23,158.55 86.70,155.80 C104.17,153.05 125.65,149.35 136.70,147.30 C147.75,145.25 150.28,144.13 153.00,143.50" stroke="#dedede" stroke-width="1.3"/>
<path d="M21,288.6H318.2" stroke="#ff0000" stroke-width="0.7"/>
<path d="M31.90,171.67 C32.15,171.62 32.91,171.48 33.41,171.39 C33.91,171.29 34.42,171.20 34.92,171.10 C35.43,171.01 35.93,170.91 36.43,170.82 C36.94,170.72 37.44,170.63 37.94,170.53 C38.45,170.44 38.95,170.35 39.45,170.25 C39.96,170.16 40.46,170.06 40.97,169.97 C41.47,169.87 41.97,169.78 42.48,169.69 C42.98,169.59 43.48,169.50 43.99,169.40 C44.49,169.31 45.00,169.22 45.50,169.12 C46.00,169.03 46.51,168.93 47.01,168.84 C47.51,168.74 48.02,168.65 48.52,168.56 C49.02,168.46 49.53,168.37 50.03,168.27 C50.54,168.18 51.04,168.09 51.54,167.99 C52.05,167.90 52.55,167.80 53.05,167.71 C53.56,167.61 54.06,167.52 54.56,167.42 C55.07,167.33 55.57,167.24 56.08,167.14 C56.58,167.05 57.08,166.95 57.59,166.86 C58.09,166.76 58.59,166.67 59.10,166.57 C59.60,166.48 60.11,166.38 60.61,166.29 C61.11,166.19 61.62,166.09 62.12,166.00 C62.62,165.90 63.13,165.81 63.63,165.71 C64.13,165.61 64.64,165.52 65.14,165.42 C65.65,165.33 66.15,165.23 66.65,165.13 C67.16,165.04 67.66,164.94 68.16,164.84 C68.67,164.74 69.17,164.65 69.67,164.55 C70.18,164.45 70.68,164.35 71.19,164.26 C71.69,164.16 72.19,164.06 72.70,163.96 C73.20,163.86 73.70,163.76 74.21,163.67 C74.71,163.57 75.22,163.47 75.72,163.37 C76.22,163.27 76.73,163.17 77.23,163.07 C77.73,162.97 78.24,162.87 78.74,162.77 C79.24,162.67 79.75,162.57 80.25,162.46 C80.76,162.36 81.26,162.26 81.76,162.16 C82.27,162.06 82.77,161.96 83.27,161.85 C83.78,161.75 84.28,161.65 84.78,161.54 C85.29,161.44 85.79,161.34 86.30,161.23 C86.80,161.13 87.30,161.02 87.81,160.92 C88.31,160.82 88.81,160.71 89.32,160.60 C89.82,160.50 90.32,160.39 90.83,160.29 C91.33,160.18 91.84,160.07 92.34,159.97 C92.84,159.86 93.35,159.75 93.85,159.64 C94.35,159.54 94.86,159.43 95.36,159.32 C95.87,159.21 96.37,159.10 96.87,158.99 C97.38,158.88 97.88,158.77 98.38,158.66 C98.89,158.55 99.39,158.44 99.89,158.33 C100.40,158.21 100.90,158.10 101.41,157.99 C101.91,157.88 102.41,157.76 102.92,157.65 C103.42,157.53 103.92,157.42 104.43,157.31 C104.93,157.19 105.43,157.08 105.94,156.96 C106.44,156.84 106.95,156.73 107.45,156.61 C107.95,156.49 108.46,156.38 108.96,156.26 C109.46,156.14 109.97,156.02 110.47,155.90 C110.98,155.78 111.48,155.66 111.98,155.54 C112.49,155.42 112.99,155.30 113.49,155.18 C114.00,155.06 114.50,154.93 115.00,154.81 C115.51,154.69 116.01,154.57 116.52,154.44 C117.02,154.32 117.52,154.19 118.03,154.07 C118.53,153.94 119.03,153.81 119.54,153.69 C120.04,153.56 120.54,153.43 121.05,153.31 C121.55,153.18 122.06,153.05 122.56,152.92 C123.06,152.79 123.57,152.66 124.07,152.53 C124.57,152.40 125.08,152.27 125.58,152.13 C126.08,152.00 126.59,151.87 127.09,151.73 C127.60,151.60 128.10,151.46 128.60,151.33 C129.11,151.19 129.61,151.06 130.11,150.92 C130.62,150.78 131.12,150.65 131.63,150.51 C132.13,150.37 132.63,150.23 133.14,150.09 C133.64,149.95 134.14,149.81 134.65,149.67 C135.15,149.53 135.65,149.38 136.16,149.24 C136.66,149.10 137.17,148.95 137.67,148.81 C138.17,148.66 138.68,148.52 139.18,148.37 C139.68,148.23 140.19,148.08 140.69,147.93 C141.19,147.78 141.70,147.63 142.20,147.48 C142.71,147.33 143.21,147.18 143.71,147.03 C144.22,146.88 144.72,146.73 145.22,146.57 C145.73,146.42 146.23,146.26 146.74,146.11 C147.24,145.95 147.74,145.80 148.25,145.64 C148.75,145.48 149.25,145.32 149.76,145.17 C150.26,145.01 150.76,144.85 151.27,144.69 C151.77,144.52 152.28,144.36 152.78,144.20 C153.28,144.04 153.79,143.87 154.29,143.71 C154.79,143.54 155.30,143.38 155.80,143.21 C156.30,143.04 156.81,142.88 157.31,142.71 C157.82,142.54 158.32,142.37 158.82,142.20 C159.33,142.03 159.83,141.85 160.33,141.68 C160.84,141.51 161.34,141.33 161.85,141.16 C162.35,140.98 162.85,140.81 163.36,140.63 C163.86,140.45 164.36,140.28 164.87,140.10 C165.37,139.92 165.87,139.74 166.38,139.56 C166.88,139.37 167.39,139.19 167.89,139.01 C168.39,138.82 168.90,138.64 169.40,138.45 C169.90,138.27 170.41,138.08 170.91,137.89 C171.41,137.70 171.92,137.51 172.42,137.32 C172.93,137.13 173.43,136.94 173.93,136.75 C174.44,136.56 174.94,136.36 175.44,136.17 C175.95,135.97 176.45,135.78 176.95,135.58 C177.46,135.38 177.96,135.18 178.47,134.98 C178.97,134.78 179.47,134.58 179.98,134.38 C180.48,134.18 180.98,133.97 181.49,133.77 C181.99,133.57 182.50,133.36 183.00,133.15 C183.50,132.94 184.01,132.74 184.51,132.53 C185.01,132.32 185.52,132.11 186.02,131.89 C186.52,131.68 187.03,131.47 187.53,131.25 C188.04,131.04 188.54,130.82 189.04,130.61 C189.55,130.39 190.05,130.17 190.55,129.95 C191.06,129.73 191.56,129.51 192.06,129.29 C192.57,129.06 193.07,128.84 193.58,128.61 C194.08,128.39 194.58,128.16 195.09,127.93 C195.59,127.71 196.09,127.48 196.60,127.25 C197.10,127.02 197.61,126.78 198.11,126.55 C198.61,126.32 199.12,126.08 199.62,125.85 C200.12,125.61 200.63,125.37 201.13,125.13 C201.63,124.89 202.14,124.65 202.64,124.41 C203.15,124.16 203.65,123.92 204.15,123.67 C204.66,123.43 205.16,123.18 205.66,122.93 C206.17,122.68 206.67,122.43 207.17,122.18 C207.68,121.92 208.18,121.67 208.69,121.41 C209.19,121.16 209.69,120.90 210.20,120.64 C210.70,120.38 211.20,120.11 211.71,119.85 C212.21,119.58 212.72,119.32 213.22,119.05 C213.72,118.78 214.23,118.51 214.73,118.24 C215.23,117.96 215.74,117.69 216.24,117.41 C216.74,117.14 217.25,116.86 217.75,116.57 C218.26,116.29 218.76,116.01 219.26,115.72 C219.77,115.44 220.27,115.15 220.77,114.86 C221.28,114.57 221.78,114.28 222.28,113.98 C222.79,113.69 223.29,113.39 223.80,113.09 C224.30,112.79 224.80,112.49 225.31,112.18 C225.81,111.87 226.31,111.57 226.82,111.26 C227.32,110.95 227.82,110.63 228.33,110.32 C228.83,110.00 229.34,109.69 229.84,109.36 C230.34,109.04 230.85,108.72 231.35,108.39 C231.85,108.07 232.36,107.74 232.86,107.41 C233.37,107.08 233.87,106.74 234.37,106.40 C234.88,106.07 235.38,105.73 235.88,105.38 C236.39,105.04 236.89,104.69 237.39,104.34 C237.90,103.99 238.40,103.64 238.91,103.29 C239.41,102.93 239.91,102.57 240.42,102.21 C240.92,101.85 241.42,101.49 241.93,101.12 C242.43,100.75 242.93,100.38 243.44,100.01 C243.94,99.63 244.45,99.25 244.95,98.87 C245.45,98.49 245.96,98.11 246.46,97.72 C246.96,97.33 247.47,96.94 247.97,96.55 C248.48,96.16 248.98,95.76 249.48,95.36 C249.99,94.96 250.49,94.55 250.99,94.14 C251.50,93.74 252.00,93.32 252.50,92.91 C253.01,92.49 253.51,92.08 254.02,91.65 C254.52,91.23 255.02,90.81 255.53,90.38 C256.03,89.95 256.53,89.51 257.04,89.08 C257.54,88.64 258.04,88.20 258.55,87.75 C259.05,87.31 259.56,86.86 260.06,86.41 C260.56,85.96 261.07,85.50 261.57,85.04 C262.07,84.58 262.58,84.12 263.08,83.65 C263.58,83.18 264.09,82.71 264.59,82.23 C265.10,81.75 265.60,81.27 266.10,80.79 C266.61,80.31 267.11,79.82 267.61,79.32 C268.12,78.83 268.62,78.34 269.13,77.83 C269.63,77.33 270.13,76.83 270.64,76.32 C271.14,75.81 271.64,75.29 272.15,74.78 C272.65,74.26 273.15,73.74 273.66,73.21 C274.16,72.68 274.67,72.15 275.17,71.61 C275.67,71.08 276.18,70.54 276.68,69.99 C277.18,69.45 277.69,68.90 278.19,68.35 C278.69,67.79 279.20,67.23 279.70,66.67 C280.21,66.11 280.71,65.54 281.21,64.97 C281.72,64.39 282.22,63.82 282.72,63.23 C283.23,62.65 283.73,62.06 284.24,61.47 C284.74,60.88 285.24,60.28 285.75,59.68 C286.25,59.08 286.75,58.48 287.26,57.86 C287.76,57.25 288.26,56.64 288.77,56.02 C289.27,55.39 289.78,54.77 290.28,54.14 C290.78,53.51 291.29,52.87 291.79,52.23 C292.29,51.59 292.80,50.94 293.30,50.29 C293.80,49.64 294.31,48.98 294.81,48.32 C295.32,47.65 295.82,46.99 296.32,46.31 C296.83,45.64 297.33,44.96 297.83,44.28 C298.34,43.60 298.84,42.91 299.35,42.21 C299.85,41.52 300.35,40.82 300.86,40.12 C301.36,39.41 301.86,38.70 302.37,37.98 C302.87,37.27 303.37,36.55 303.88,35.82 C304.38,35.09 304.89,34.36 305.39,33.62 C305.89,32.88 306.65,31.76 306.90,31.39" stroke="#000" stroke-width="3"/>
<path d="M31.90,127.40 L306.90,127.40" stroke="#00cd00" stroke-width="3"/>
</g>
<rect x="21" y="21" width="297.2" height="278.1" fill="none" stroke="#000" stroke-width="0.85"/>
<path d="M29.15,299.1H307.05M29.15,299.1v4.8M84.73,299.1v4.8M140.31,299.1v4.8M195.89,299.1v4.8M251.47,299.1v4.8M307.05,299.1v4.8" stroke="#000" stroke-width="0.8" fill="none"/>
<text x="29.55" y="315.7" font-size="11" text-anchor="middle">0</text>
<text x="85.13" y="315.7" font-size="11" text-anchor="middle">10</text>
<text x="140.71" y="315.7" font-size="11" text-anchor="middle">20</text>
<text x="196.29" y="315.7" font-size="11" text-anchor="middle">30</text>
<text x="251.87" y="315.7" font-size="11" text-anchor="middle">40</text>
<text x="307.45" y="315.7" font-size="11" text-anchor="middle">50</text>
<path d="M21,291.4V47M21,291.4h-5.1M21,242.52h-5.1M21,193.64h-5.1M21,144.76h-5.1M21,95.88h-5.1M21,47h-5.1" stroke="#000" stroke-width="0.8" fill="none"/>
<text transform="translate(10.3,291.4) rotate(-90)" font-size="11" text-anchor="middle">0</text>
<text transform="translate(10.3,242.52) rotate(-90)" font-size="11" text-anchor="middle">20</text>
<text transform="translate(10.3,193.64) rotate(-90)" font-size="11" text-anchor="middle">40</text>
<text transform="translate(10.3,144.76) rotate(-90)" font-size="11" text-anchor="middle">60</text>
<text transform="translate(10.3,95.88) rotate(-90)" font-size="11" text-anchor="middle">80</text>
<text transform="translate(10.3,47) rotate(-90)" font-size="11" text-anchor="middle">100</text>
<text transform="translate(169.5,15.7) scale(1.08,1)" font-size="14.8" font-weight="bold" text-anchor="middle">3:3 (44585.3)</text>
</g>
</svg></body></html>
